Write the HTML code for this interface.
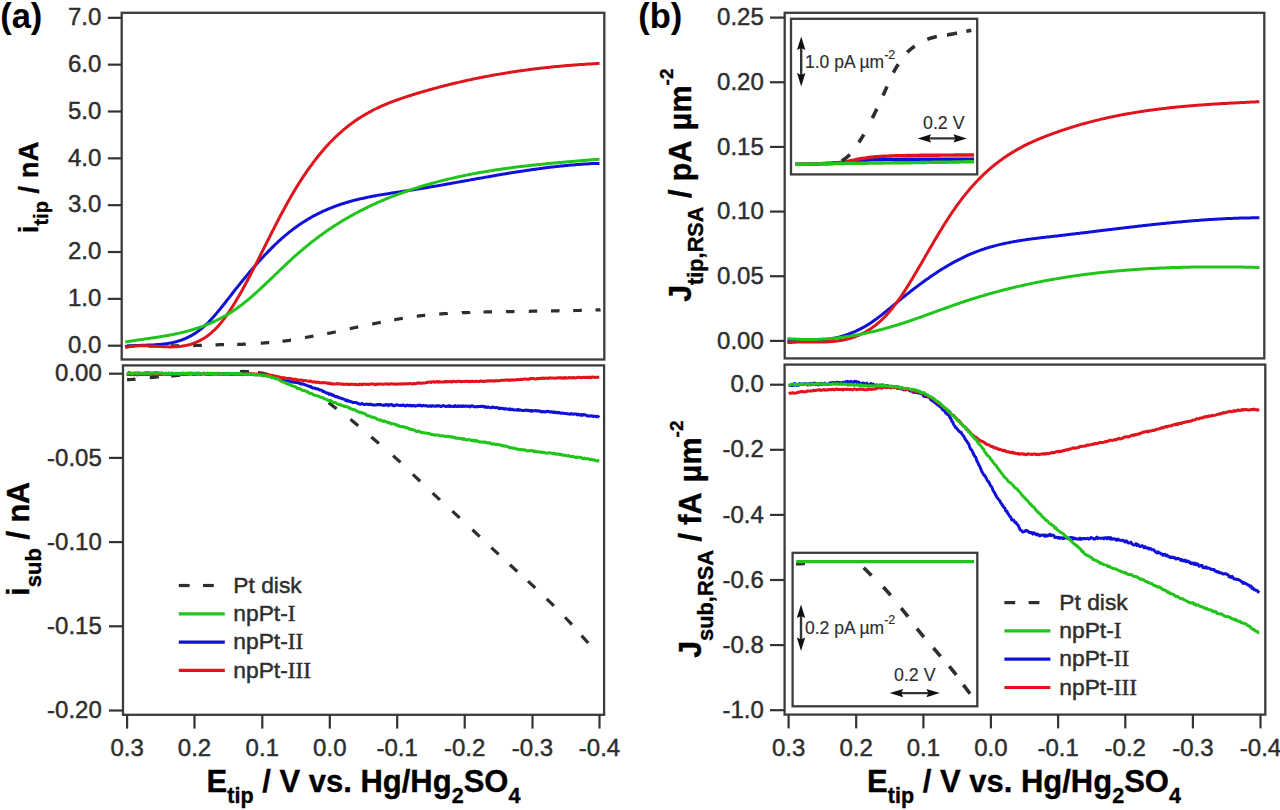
<!DOCTYPE html>
<html><head><meta charset="utf-8"><style>
html,body{margin:0;padding:0;background:#fff;width:1280px;height:810px;overflow:hidden;}
svg{display:block;}
</style></head><body>
<svg width="1280" height="810" viewBox="0 0 1280 810">

<rect width="1280" height="810" fill="#fff"/>
<g>
<rect width="1280" height="810" fill="#fff"/>
<rect x="121.70" y="12.80" width="482.60" height="346.70" fill="none" stroke="#3c3c3c" stroke-width="2.30"/>
<line x1="107.80" y1="345.70" x2="121.70" y2="345.70" stroke="#333" stroke-width="2.20"/>
<text x="101.30" y="353.00" font-family="Liberation Sans, sans-serif" font-size="24.00" font-weight="normal" text-anchor="end" fill="#2e2e2e" stroke="#2e2e2e" stroke-width="0.45">0.0</text>
<line x1="107.80" y1="298.86" x2="121.70" y2="298.86" stroke="#333" stroke-width="2.20"/>
<text x="101.30" y="306.16" font-family="Liberation Sans, sans-serif" font-size="24.00" font-weight="normal" text-anchor="end" fill="#2e2e2e" stroke="#2e2e2e" stroke-width="0.45">1.0</text>
<line x1="107.80" y1="252.02" x2="121.70" y2="252.02" stroke="#333" stroke-width="2.20"/>
<text x="101.30" y="259.32" font-family="Liberation Sans, sans-serif" font-size="24.00" font-weight="normal" text-anchor="end" fill="#2e2e2e" stroke="#2e2e2e" stroke-width="0.45">2.0</text>
<line x1="107.80" y1="205.18" x2="121.70" y2="205.18" stroke="#333" stroke-width="2.20"/>
<text x="101.30" y="212.48" font-family="Liberation Sans, sans-serif" font-size="24.00" font-weight="normal" text-anchor="end" fill="#2e2e2e" stroke="#2e2e2e" stroke-width="0.45">3.0</text>
<line x1="107.80" y1="158.34" x2="121.70" y2="158.34" stroke="#333" stroke-width="2.20"/>
<text x="101.30" y="165.64" font-family="Liberation Sans, sans-serif" font-size="24.00" font-weight="normal" text-anchor="end" fill="#2e2e2e" stroke="#2e2e2e" stroke-width="0.45">4.0</text>
<line x1="107.80" y1="111.50" x2="121.70" y2="111.50" stroke="#333" stroke-width="2.20"/>
<text x="101.30" y="118.80" font-family="Liberation Sans, sans-serif" font-size="24.00" font-weight="normal" text-anchor="end" fill="#2e2e2e" stroke="#2e2e2e" stroke-width="0.45">5.0</text>
<line x1="107.80" y1="64.66" x2="121.70" y2="64.66" stroke="#333" stroke-width="2.20"/>
<text x="101.30" y="71.96" font-family="Liberation Sans, sans-serif" font-size="24.00" font-weight="normal" text-anchor="end" fill="#2e2e2e" stroke="#2e2e2e" stroke-width="0.45">6.0</text>
<line x1="107.80" y1="17.82" x2="121.70" y2="17.82" stroke="#333" stroke-width="2.20"/>
<text x="101.30" y="25.12" font-family="Liberation Sans, sans-serif" font-size="24.00" font-weight="normal" text-anchor="end" fill="#2e2e2e" stroke="#2e2e2e" stroke-width="0.45">7.0</text>
<rect x="123.00" y="365.40" width="481.10" height="349.40" fill="none" stroke="#3c3c3c" stroke-width="2.30"/>
<line x1="109.00" y1="373.70" x2="123.00" y2="373.70" stroke="#333" stroke-width="2.20"/>
<text x="101.80" y="381.30" font-family="Liberation Sans, sans-serif" font-size="24.00" font-weight="normal" text-anchor="end" fill="#2e2e2e" stroke="#2e2e2e" stroke-width="0.45">0.00</text>
<line x1="109.00" y1="457.90" x2="123.00" y2="457.90" stroke="#333" stroke-width="2.20"/>
<text x="101.80" y="465.50" font-family="Liberation Sans, sans-serif" font-size="24.00" font-weight="normal" text-anchor="end" fill="#2e2e2e" stroke="#2e2e2e" stroke-width="0.45">-0.05</text>
<line x1="109.00" y1="542.10" x2="123.00" y2="542.10" stroke="#333" stroke-width="2.20"/>
<text x="101.80" y="549.70" font-family="Liberation Sans, sans-serif" font-size="24.00" font-weight="normal" text-anchor="end" fill="#2e2e2e" stroke="#2e2e2e" stroke-width="0.45">-0.10</text>
<line x1="109.00" y1="626.30" x2="123.00" y2="626.30" stroke="#333" stroke-width="2.20"/>
<text x="101.80" y="633.90" font-family="Liberation Sans, sans-serif" font-size="24.00" font-weight="normal" text-anchor="end" fill="#2e2e2e" stroke="#2e2e2e" stroke-width="0.45">-0.15</text>
<line x1="109.00" y1="710.50" x2="123.00" y2="710.50" stroke="#333" stroke-width="2.20"/>
<text x="101.80" y="718.10" font-family="Liberation Sans, sans-serif" font-size="24.00" font-weight="normal" text-anchor="end" fill="#2e2e2e" stroke="#2e2e2e" stroke-width="0.45">-0.20</text>
<line x1="127.10" y1="714.80" x2="127.10" y2="728.60" stroke="#333" stroke-width="2.20"/>
<text x="127.10" y="756.40" font-family="Liberation Sans, sans-serif" font-size="24.00" font-weight="normal" text-anchor="middle" fill="#2e2e2e" stroke="#2e2e2e" stroke-width="0.45">0.3</text>
<line x1="194.50" y1="714.80" x2="194.50" y2="728.60" stroke="#333" stroke-width="2.20"/>
<text x="194.50" y="756.40" font-family="Liberation Sans, sans-serif" font-size="24.00" font-weight="normal" text-anchor="middle" fill="#2e2e2e" stroke="#2e2e2e" stroke-width="0.45">0.2</text>
<line x1="262.30" y1="714.80" x2="262.30" y2="728.60" stroke="#333" stroke-width="2.20"/>
<text x="262.30" y="756.40" font-family="Liberation Sans, sans-serif" font-size="24.00" font-weight="normal" text-anchor="middle" fill="#2e2e2e" stroke="#2e2e2e" stroke-width="0.45">0.1</text>
<line x1="329.80" y1="714.80" x2="329.80" y2="728.60" stroke="#333" stroke-width="2.20"/>
<text x="329.80" y="756.40" font-family="Liberation Sans, sans-serif" font-size="24.00" font-weight="normal" text-anchor="middle" fill="#2e2e2e" stroke="#2e2e2e" stroke-width="0.45">0.0</text>
<line x1="397.20" y1="714.80" x2="397.20" y2="728.60" stroke="#333" stroke-width="2.20"/>
<text x="397.20" y="756.40" font-family="Liberation Sans, sans-serif" font-size="24.00" font-weight="normal" text-anchor="middle" fill="#2e2e2e" stroke="#2e2e2e" stroke-width="0.45">-0.1</text>
<line x1="464.70" y1="714.80" x2="464.70" y2="728.60" stroke="#333" stroke-width="2.20"/>
<text x="464.70" y="756.40" font-family="Liberation Sans, sans-serif" font-size="24.00" font-weight="normal" text-anchor="middle" fill="#2e2e2e" stroke="#2e2e2e" stroke-width="0.45">-0.2</text>
<line x1="532.50" y1="714.80" x2="532.50" y2="728.60" stroke="#333" stroke-width="2.20"/>
<text x="532.50" y="756.40" font-family="Liberation Sans, sans-serif" font-size="24.00" font-weight="normal" text-anchor="middle" fill="#2e2e2e" stroke="#2e2e2e" stroke-width="0.45">-0.3</text>
<line x1="599.50" y1="714.80" x2="599.50" y2="728.60" stroke="#333" stroke-width="2.20"/>
<text x="599.50" y="756.40" font-family="Liberation Sans, sans-serif" font-size="24.00" font-weight="normal" text-anchor="middle" fill="#2e2e2e" stroke="#2e2e2e" stroke-width="0.45">-0.4</text>
<rect x="784.70" y="12.80" width="479.60" height="345.60" fill="none" stroke="#3c3c3c" stroke-width="2.30"/>
<line x1="770.00" y1="340.90" x2="784.70" y2="340.90" stroke="#333" stroke-width="2.20"/>
<text x="763.80" y="348.50" font-family="Liberation Sans, sans-serif" font-size="24.00" font-weight="normal" text-anchor="end" fill="#2e2e2e" stroke="#2e2e2e" stroke-width="0.45">0.00</text>
<line x1="770.00" y1="276.24" x2="784.70" y2="276.24" stroke="#333" stroke-width="2.20"/>
<text x="763.80" y="283.84" font-family="Liberation Sans, sans-serif" font-size="24.00" font-weight="normal" text-anchor="end" fill="#2e2e2e" stroke="#2e2e2e" stroke-width="0.45">0.05</text>
<line x1="770.00" y1="211.58" x2="784.70" y2="211.58" stroke="#333" stroke-width="2.20"/>
<text x="763.80" y="219.18" font-family="Liberation Sans, sans-serif" font-size="24.00" font-weight="normal" text-anchor="end" fill="#2e2e2e" stroke="#2e2e2e" stroke-width="0.45">0.10</text>
<line x1="770.00" y1="146.92" x2="784.70" y2="146.92" stroke="#333" stroke-width="2.20"/>
<text x="763.80" y="154.52" font-family="Liberation Sans, sans-serif" font-size="24.00" font-weight="normal" text-anchor="end" fill="#2e2e2e" stroke="#2e2e2e" stroke-width="0.45">0.15</text>
<line x1="770.00" y1="82.26" x2="784.70" y2="82.26" stroke="#333" stroke-width="2.20"/>
<text x="763.80" y="89.86" font-family="Liberation Sans, sans-serif" font-size="24.00" font-weight="normal" text-anchor="end" fill="#2e2e2e" stroke="#2e2e2e" stroke-width="0.45">0.20</text>
<line x1="770.00" y1="17.60" x2="784.70" y2="17.60" stroke="#333" stroke-width="2.20"/>
<text x="763.80" y="25.20" font-family="Liberation Sans, sans-serif" font-size="24.00" font-weight="normal" text-anchor="end" fill="#2e2e2e" stroke="#2e2e2e" stroke-width="0.45">0.25</text>
<rect x="784.60" y="364.60" width="480.70" height="350.00" fill="none" stroke="#3c3c3c" stroke-width="2.30"/>
<line x1="770.00" y1="384.70" x2="784.60" y2="384.70" stroke="#333" stroke-width="2.20"/>
<text x="763.80" y="392.30" font-family="Liberation Sans, sans-serif" font-size="24.00" font-weight="normal" text-anchor="end" fill="#2e2e2e" stroke="#2e2e2e" stroke-width="0.45">0.0</text>
<line x1="770.00" y1="449.80" x2="784.60" y2="449.80" stroke="#333" stroke-width="2.20"/>
<text x="763.80" y="457.40" font-family="Liberation Sans, sans-serif" font-size="24.00" font-weight="normal" text-anchor="end" fill="#2e2e2e" stroke="#2e2e2e" stroke-width="0.45">-0.2</text>
<line x1="770.00" y1="514.90" x2="784.60" y2="514.90" stroke="#333" stroke-width="2.20"/>
<text x="763.80" y="522.50" font-family="Liberation Sans, sans-serif" font-size="24.00" font-weight="normal" text-anchor="end" fill="#2e2e2e" stroke="#2e2e2e" stroke-width="0.45">-0.4</text>
<line x1="770.00" y1="580.00" x2="784.60" y2="580.00" stroke="#333" stroke-width="2.20"/>
<text x="763.80" y="587.60" font-family="Liberation Sans, sans-serif" font-size="24.00" font-weight="normal" text-anchor="end" fill="#2e2e2e" stroke="#2e2e2e" stroke-width="0.45">-0.6</text>
<line x1="770.00" y1="645.10" x2="784.60" y2="645.10" stroke="#333" stroke-width="2.20"/>
<text x="763.80" y="652.70" font-family="Liberation Sans, sans-serif" font-size="24.00" font-weight="normal" text-anchor="end" fill="#2e2e2e" stroke="#2e2e2e" stroke-width="0.45">-0.8</text>
<line x1="770.00" y1="710.20" x2="784.60" y2="710.20" stroke="#333" stroke-width="2.20"/>
<text x="763.80" y="717.80" font-family="Liberation Sans, sans-serif" font-size="24.00" font-weight="normal" text-anchor="end" fill="#2e2e2e" stroke="#2e2e2e" stroke-width="0.45">-1.0</text>
<line x1="788.60" y1="714.60" x2="788.60" y2="728.40" stroke="#333" stroke-width="2.20"/>
<text x="788.60" y="756.40" font-family="Liberation Sans, sans-serif" font-size="24.00" font-weight="normal" text-anchor="middle" fill="#2e2e2e" stroke="#2e2e2e" stroke-width="0.45">0.3</text>
<line x1="856.20" y1="714.60" x2="856.20" y2="728.40" stroke="#333" stroke-width="2.20"/>
<text x="856.20" y="756.40" font-family="Liberation Sans, sans-serif" font-size="24.00" font-weight="normal" text-anchor="middle" fill="#2e2e2e" stroke="#2e2e2e" stroke-width="0.45">0.2</text>
<line x1="923.40" y1="714.60" x2="923.40" y2="728.40" stroke="#333" stroke-width="2.20"/>
<text x="923.40" y="756.40" font-family="Liberation Sans, sans-serif" font-size="24.00" font-weight="normal" text-anchor="middle" fill="#2e2e2e" stroke="#2e2e2e" stroke-width="0.45">0.1</text>
<line x1="990.90" y1="714.60" x2="990.90" y2="728.40" stroke="#333" stroke-width="2.20"/>
<text x="990.90" y="756.40" font-family="Liberation Sans, sans-serif" font-size="24.00" font-weight="normal" text-anchor="middle" fill="#2e2e2e" stroke="#2e2e2e" stroke-width="0.45">0.0</text>
<line x1="1058.10" y1="714.60" x2="1058.10" y2="728.40" stroke="#333" stroke-width="2.20"/>
<text x="1058.10" y="756.40" font-family="Liberation Sans, sans-serif" font-size="24.00" font-weight="normal" text-anchor="middle" fill="#2e2e2e" stroke="#2e2e2e" stroke-width="0.45">-0.1</text>
<line x1="1125.30" y1="714.60" x2="1125.30" y2="728.40" stroke="#333" stroke-width="2.20"/>
<text x="1125.30" y="756.40" font-family="Liberation Sans, sans-serif" font-size="24.00" font-weight="normal" text-anchor="middle" fill="#2e2e2e" stroke="#2e2e2e" stroke-width="0.45">-0.2</text>
<line x1="1192.90" y1="714.60" x2="1192.90" y2="728.40" stroke="#333" stroke-width="2.20"/>
<text x="1192.90" y="756.40" font-family="Liberation Sans, sans-serif" font-size="24.00" font-weight="normal" text-anchor="middle" fill="#2e2e2e" stroke="#2e2e2e" stroke-width="0.45">-0.3</text>
<line x1="1260.50" y1="714.60" x2="1260.50" y2="728.40" stroke="#333" stroke-width="2.20"/>
<text x="1260.50" y="756.40" font-family="Liberation Sans, sans-serif" font-size="24.00" font-weight="normal" text-anchor="middle" fill="#2e2e2e" stroke="#2e2e2e" stroke-width="0.45">-0.4</text>
<path d="M127.0 346.0 L127.5 346.0 L128.0 346.0 L128.5 346.0 L129.0 346.0 L129.5 346.0 L130.0 346.0 L130.5 346.0 L131.0 346.0 L131.5 346.0 L132.0 346.0 L132.5 346.0 L133.0 346.0 L133.5 346.0 L134.0 346.0 L134.5 346.0" fill="none" stroke="#2e2e2e" stroke-width="3.20"/>
<path d="M148.5 346.0 L149.0 346.0 L149.5 346.0 L150.0 346.0 L150.5 346.0 L151.0 346.0 L151.5 346.0 L152.0 346.0 L152.5 346.0 L153.0 346.0 L153.5 346.0 L154.0 346.0 L154.5 346.0 L155.0 346.0 L155.5 346.0 L156.0 346.0 L156.5 346.0 L157.0 346.0" fill="none" stroke="#2e2e2e" stroke-width="3.20"/>
<path d="M170.8 345.8 L171.2 345.8 L171.8 345.8 L172.2 345.8 L172.8 345.8 L173.2 345.8 L173.8 345.8 L174.2 345.8 L174.8 345.8 L175.2 345.8 L175.8 345.8 L176.2 345.8 L176.8 345.8 L177.2 345.8 L177.8 345.8 L178.2 345.8 L178.8 345.8 L179.2 345.8" fill="none" stroke="#2e2e2e" stroke-width="3.20"/>
<path d="M193.2 345.6 L193.8 345.6 L194.2 345.6 L194.8 345.5 L195.2 345.5 L195.8 345.5 L196.2 345.5 L196.8 345.5 L197.2 345.5 L197.8 345.5 L198.2 345.5 L198.8 345.5 L199.2 345.4 L199.8 345.4 L200.2 345.4 L200.8 345.4 L201.2 345.4 L201.8 345.4" fill="none" stroke="#2e2e2e" stroke-width="3.20"/>
<path d="M215.5 344.8 L216.0 344.8 L216.5 344.8 L217.0 344.8 L217.5 344.8 L218.0 344.8 L218.5 344.7 L219.0 344.7 L219.5 344.7 L220.0 344.7 L220.5 344.7 L221.0 344.7 L221.5 344.7 L222.0 344.7 L222.5 344.6 L223.0 344.6 L223.5 344.6 L224.0 344.6" fill="none" stroke="#2e2e2e" stroke-width="3.20"/>
<path d="M237.2 344.4 L237.8 344.4 L238.2 344.4 L238.8 344.4 L239.2 344.3 L239.8 344.3 L240.2 344.3 L240.8 344.3 L241.2 344.3 L241.8 344.3 L242.2 344.3 L242.8 344.2 L243.2 344.2 L243.8 344.2 L244.2 344.2 L244.8 344.2 L245.2 344.2 L245.8 344.1" fill="none" stroke="#2e2e2e" stroke-width="3.20"/>
<path d="M260.8 343.2 L261.2 343.2 L261.8 343.1 L262.2 343.1 L262.8 343.1 L263.2 343.0 L263.8 343.0 L264.2 342.9 L264.8 342.9 L265.2 342.9 L265.8 342.8 L266.2 342.8 L266.8 342.8 L267.2 342.7 L267.8 342.7 L268.2 342.6 L268.8 342.6 L269.2 342.6" fill="none" stroke="#2e2e2e" stroke-width="3.20"/>
<path d="M282.5 341.3 L283.0 341.2 L283.5 341.2 L284.0 341.1 L284.5 341.1 L285.0 341.0 L285.5 340.9 L286.0 340.9 L286.5 340.8 L287.0 340.7 L287.5 340.7 L288.0 340.6 L288.5 340.5 L289.0 340.5 L289.5 340.4 L290.0 340.3 L290.5 340.2 L291.0 340.2" fill="none" stroke="#2e2e2e" stroke-width="3.20"/>
<path d="M305.0 337.6 L305.5 337.5 L306.0 337.4 L306.5 337.3 L307.0 337.2 L307.5 337.1 L308.0 337.0 L308.5 336.9 L309.0 336.8 L309.5 336.8 L310.0 336.7 L310.5 336.6 L311.0 336.5 L311.5 336.4 L312.0 336.3 L312.5 336.2 L313.0 336.1 L313.5 336.0" fill="none" stroke="#2e2e2e" stroke-width="3.20"/>
<path d="M327.2 333.6 L327.8 333.5 L328.2 333.4 L328.8 333.3 L329.2 333.2 L329.8 333.1 L330.2 333.0 L330.8 332.9 L331.2 332.8 L331.8 332.7 L332.2 332.6 L332.8 332.5 L333.2 332.4 L333.8 332.3 L334.2 332.2 L334.8 332.1 L335.2 332.0 L335.8 331.9" fill="none" stroke="#2e2e2e" stroke-width="3.20"/>
<path d="M349.8 328.7 L350.2 328.6 L350.8 328.5 L351.2 328.4 L351.8 328.3 L352.2 328.2 L352.8 328.1 L353.2 327.9 L353.8 327.8 L354.2 327.7 L354.8 327.6 L355.2 327.5 L355.8 327.4 L356.2 327.3 L356.8 327.2 L357.2 327.1 L357.8 327.0 L358.2 326.9" fill="none" stroke="#2e2e2e" stroke-width="3.20"/>
<path d="M372.2 324.0 L372.8 323.9 L373.2 323.8 L373.8 323.7 L374.2 323.6 L374.8 323.5 L375.2 323.4 L375.8 323.3 L376.2 323.2 L376.8 323.1 L377.2 323.0 L377.8 322.9 L378.2 322.8 L378.8 322.7 L379.2 322.6 L379.8 322.5 L380.2 322.4 L380.8 322.3" fill="none" stroke="#2e2e2e" stroke-width="3.20"/>
<path d="M394.2 319.7 L394.8 319.7 L395.2 319.6 L395.8 319.5 L396.2 319.4 L396.8 319.3 L397.2 319.2 L397.8 319.1 L398.2 319.1 L398.8 319.0 L399.2 318.9 L399.8 318.8 L400.2 318.7 L400.8 318.6 L401.2 318.6 L401.8 318.5 L402.2 318.4 L402.8 318.3" fill="none" stroke="#2e2e2e" stroke-width="3.20"/>
<path d="M416.8 316.2 L417.2 316.2 L417.8 316.1 L418.2 316.0 L418.8 316.0 L419.2 315.9 L419.8 315.9 L420.2 315.8 L420.8 315.7 L421.2 315.7 L421.8 315.6 L422.2 315.6 L422.8 315.5 L423.2 315.5 L423.8 315.4 L424.2 315.4 L424.8 315.3 L425.2 315.3" fill="none" stroke="#2e2e2e" stroke-width="3.20"/>
<path d="M439.2 314.0 L439.8 314.0 L440.2 313.9 L440.8 313.9 L441.2 313.9 L441.8 313.8 L442.2 313.8 L442.8 313.8 L443.2 313.7 L443.8 313.7 L444.2 313.7 L444.8 313.6 L445.2 313.6 L445.8 313.6 L446.2 313.5 L446.8 313.5 L447.2 313.5 L447.8 313.4" fill="none" stroke="#2e2e2e" stroke-width="3.20"/>
<path d="M461.8 312.8 L462.2 312.7 L462.8 312.7 L463.2 312.7 L463.8 312.7 L464.2 312.7 L464.8 312.6 L465.2 312.6 L465.8 312.6 L466.2 312.6 L466.8 312.6 L467.2 312.5 L467.8 312.5 L468.2 312.5 L468.8 312.5 L469.2 312.5 L469.8 312.5 L470.2 312.4" fill="none" stroke="#2e2e2e" stroke-width="3.20"/>
<path d="M483.5 312.0 L484.0 312.0 L484.5 312.0 L485.0 312.0 L485.5 312.0 L486.0 311.9 L486.5 311.9 L487.0 311.9 L487.5 311.9 L488.0 311.9 L488.5 311.9 L489.0 311.9 L489.5 311.9 L490.0 311.9 L490.5 311.9 L491.0 311.8 L491.5 311.8 L492.0 311.8" fill="none" stroke="#2e2e2e" stroke-width="3.20"/>
<path d="M506.0 311.7 L506.5 311.6 L507.0 311.6 L507.5 311.6 L508.0 311.6 L508.5 311.6 L509.0 311.6 L509.5 311.6 L510.0 311.6 L510.5 311.6 L511.0 311.6 L511.5 311.6 L512.0 311.6 L512.5 311.6 L513.0 311.6 L513.5 311.5 L514.0 311.5 L514.5 311.5" fill="none" stroke="#2e2e2e" stroke-width="3.20"/>
<path d="M528.8 311.3 L529.2 311.3 L529.8 311.3 L530.2 311.3 L530.8 311.2 L531.2 311.2 L531.8 311.2 L532.2 311.2 L532.8 311.2 L533.2 311.2 L533.8 311.2 L534.2 311.2 L534.8 311.2 L535.2 311.2 L535.8 311.2 L536.2 311.1 L536.8 311.1 L537.2 311.1" fill="none" stroke="#2e2e2e" stroke-width="3.20"/>
<path d="M551.0 310.9 L551.5 310.9 L552.0 310.9 L552.5 310.8 L553.0 310.8 L553.5 310.8 L554.0 310.8 L554.5 310.8 L555.0 310.8 L555.5 310.8 L556.0 310.8 L556.5 310.8 L557.0 310.8 L557.5 310.8 L558.0 310.8 L558.5 310.8 L559.0 310.7 L559.5 310.7" fill="none" stroke="#2e2e2e" stroke-width="3.20"/>
<path d="M573.2 310.6 L573.8 310.6 L574.2 310.5 L574.8 310.5 L575.2 310.5 L575.8 310.5 L576.2 310.5 L576.8 310.5 L577.2 310.5 L577.8 310.5 L578.2 310.5 L578.8 310.5 L579.2 310.5 L579.8 310.4 L580.2 310.4 L580.8 310.4 L581.2 310.4 L581.8 310.4" fill="none" stroke="#2e2e2e" stroke-width="3.20"/>
<path d="M595.5 310.0 L596.0 310.0 L596.5 310.0 L597.0 309.9 L597.5 309.9 L598.0 309.9 L598.5 309.9 L599.0 309.9 L599.5 309.9 L600.0 309.9 L600.5 309.8" fill="none" stroke="#2e2e2e" stroke-width="3.20"/>
<path d="M125.2 346.5 L126.2 346.4 L127.2 346.3 L128.2 346.2 L129.2 346.1 L130.2 346.0 L131.2 345.9 L132.2 345.9 L133.2 345.8 L134.2 345.7 L135.2 345.6 L136.2 345.6 L137.2 345.5 L138.2 345.5 L139.2 345.4 L140.2 345.4 L141.2 345.3 L142.2 345.3 L143.2 345.3 L144.2 345.2 L145.2 345.2 L146.2 345.2 L147.2 345.1 L148.2 345.1 L149.2 345.0 L150.2 345.0 L151.2 345.0 L152.2 344.9 L153.2 344.9 L154.2 344.8 L155.2 344.8 L156.2 344.7 L157.2 344.6 L158.2 344.6 L159.2 344.5 L160.2 344.4 L161.2 344.3 L162.2 344.2 L163.2 344.1 L164.2 344.0 L165.2 343.9 L166.2 343.7 L167.2 343.6 L168.2 343.4 L169.2 343.2 L170.2 343.1 L171.2 342.9 L172.2 342.7 L173.2 342.4 L174.2 342.2 L175.2 342.0 L176.2 341.7 L177.2 341.4 L178.2 341.1 L179.2 340.8 L180.2 340.5 L181.2 340.1 L182.2 339.8 L183.2 339.4 L184.2 339.0 L185.2 338.6 L186.2 338.1 L187.2 337.7 L188.2 337.2 L189.2 336.7 L190.2 336.2 L191.2 335.6 L192.2 335.1 L193.2 334.5 L194.2 333.9 L195.2 333.2 L196.2 332.6 L197.2 331.9 L198.2 331.1 L199.2 330.4 L200.2 329.6 L201.2 328.8 L202.2 328.0 L203.2 327.2 L204.2 326.3 L205.3 325.4 L206.3 324.4 L207.3 323.5 L208.3 322.5 L209.3 321.4 L210.3 320.4 L211.3 319.3 L212.3 318.2 L213.3 317.1 L214.3 316.0 L215.3 314.8 L216.3 313.6 L217.3 312.4 L218.3 311.2 L219.3 310.0 L220.3 308.8 L221.3 307.5 L222.3 306.3 L223.3 305.0 L224.3 303.8 L225.3 302.5 L226.3 301.2 L227.3 299.9 L228.3 298.6 L229.3 297.4 L230.3 296.1 L231.3 294.8 L232.3 293.5 L233.3 292.2 L234.3 291.0 L235.3 289.7 L236.3 288.4 L237.3 287.2 L238.3 285.9 L239.3 284.7 L240.3 283.4 L241.3 282.2 L242.3 281.0 L243.3 279.7 L244.3 278.5 L245.3 277.3 L246.3 276.1 L247.3 274.9 L248.3 273.7 L249.3 272.5 L250.3 271.3 L251.3 270.2 L252.3 269.0 L253.3 267.8 L254.3 266.7 L255.3 265.5 L256.3 264.4 L257.3 263.3 L258.3 262.1 L259.3 261.0 L260.3 259.9 L261.3 258.8 L262.3 257.7 L263.3 256.7 L264.3 255.6 L265.3 254.5 L266.3 253.5 L267.3 252.4 L268.3 251.4 L269.3 250.4 L270.3 249.4 L271.3 248.4 L272.3 247.4 L273.3 246.4 L274.3 245.4 L275.3 244.4 L276.3 243.5 L277.3 242.6 L278.3 241.6 L279.3 240.7 L280.3 239.8 L281.3 238.9 L282.3 238.0 L283.3 237.1 L284.3 236.3 L285.3 235.4 L286.3 234.6 L287.3 233.8 L288.3 233.0 L289.3 232.2 L290.3 231.4 L291.3 230.6 L292.3 229.8 L293.3 229.1 L294.3 228.3 L295.3 227.6 L296.3 226.9 L297.3 226.2 L298.3 225.5 L299.3 224.8 L300.3 224.1 L301.3 223.4 L302.3 222.8 L303.3 222.1 L304.3 221.5 L305.3 220.9 L306.3 220.2 L307.3 219.6 L308.3 219.0 L309.3 218.4 L310.3 217.9 L311.3 217.3 L312.3 216.7 L313.3 216.2 L314.3 215.7 L315.3 215.1 L316.3 214.6 L317.3 214.1 L318.3 213.6 L319.3 213.1 L320.3 212.6 L321.3 212.1 L322.3 211.6 L323.3 211.2 L324.3 210.7 L325.3 210.3 L326.3 209.8 L327.3 209.4 L328.3 209.0 L329.3 208.6 L330.3 208.2 L331.3 207.8 L332.3 207.4 L333.3 207.0 L334.3 206.6 L335.3 206.2 L336.3 205.9 L337.3 205.5 L338.3 205.1 L339.3 204.8 L340.3 204.5 L341.3 204.1 L342.3 203.8 L343.3 203.5 L344.3 203.2 L345.3 202.9 L346.3 202.6 L347.3 202.3 L348.3 202.0 L349.3 201.7 L350.3 201.4 L351.3 201.1 L352.3 200.8 L353.3 200.6 L354.3 200.3 L355.3 200.1 L356.3 199.8 L357.3 199.6 L358.3 199.3 L359.3 199.1 L360.3 198.8 L361.3 198.6 L362.4 198.4 L363.4 198.2 L364.4 198.0 L365.4 197.7 L366.4 197.5 L367.4 197.3 L368.4 197.1 L369.4 196.9 L370.4 196.7 L371.4 196.5 L372.4 196.3 L373.4 196.1 L374.4 196.0 L375.4 195.8 L376.4 195.6 L377.4 195.4 L378.4 195.2 L379.4 195.1 L380.4 194.9 L381.4 194.7 L382.4 194.6 L383.4 194.4 L384.4 194.2 L385.4 194.1 L386.4 193.9 L387.4 193.8 L388.4 193.6 L389.4 193.4 L390.4 193.3 L391.4 193.1 L392.4 193.0 L393.4 192.8 L394.4 192.7 L395.4 192.5 L396.4 192.4 L397.4 192.2 L398.4 192.1 L399.4 191.9 L400.4 191.8 L401.4 191.6 L402.4 191.5 L403.4 191.3 L404.4 191.2 L405.4 191.0 L406.4 190.9 L407.4 190.7 L408.4 190.6 L409.4 190.4 L410.4 190.2 L411.4 190.1 L412.4 189.9 L413.4 189.8 L414.4 189.6 L415.4 189.5 L416.4 189.3 L417.4 189.1 L418.4 189.0 L419.4 188.8 L420.4 188.6 L421.4 188.5 L422.4 188.3 L423.4 188.2 L424.4 188.0 L425.4 187.8 L426.4 187.7 L427.4 187.5 L428.4 187.3 L429.4 187.1 L430.4 187.0 L431.4 186.8 L432.4 186.6 L433.4 186.5 L434.4 186.3 L435.4 186.1 L436.4 185.9 L437.4 185.8 L438.4 185.6 L439.4 185.4 L440.4 185.3 L441.4 185.1 L442.4 184.9 L443.4 184.7 L444.4 184.5 L445.4 184.4 L446.4 184.2 L447.4 184.0 L448.4 183.8 L449.4 183.7 L450.4 183.5 L451.4 183.3 L452.4 183.1 L453.4 183.0 L454.4 182.8 L455.4 182.6 L456.4 182.4 L457.4 182.2 L458.4 182.1 L459.4 181.9 L460.4 181.7 L461.4 181.5 L462.4 181.3 L463.4 181.2 L464.4 181.0 L465.4 180.8 L466.4 180.6 L467.4 180.4 L468.4 180.3 L469.4 180.1 L470.4 179.9 L471.4 179.7 L472.4 179.5 L473.4 179.4 L474.4 179.2 L475.4 179.0 L476.4 178.8 L477.4 178.6 L478.4 178.5 L479.4 178.3 L480.4 178.1 L481.4 177.9 L482.4 177.8 L483.4 177.6 L484.4 177.4 L485.4 177.2 L486.4 177.1 L487.4 176.9 L488.4 176.7 L489.4 176.5 L490.4 176.4 L491.4 176.2 L492.4 176.0 L493.4 175.8 L494.4 175.7 L495.4 175.5 L496.4 175.3 L497.4 175.1 L498.4 175.0 L499.4 174.8 L500.4 174.6 L501.4 174.5 L502.4 174.3 L503.4 174.1 L504.4 174.0 L505.4 173.8 L506.4 173.6 L507.4 173.5 L508.4 173.3 L509.4 173.1 L510.4 173.0 L511.4 172.8 L512.4 172.6 L513.4 172.5 L514.4 172.3 L515.4 172.2 L516.4 172.0 L517.4 171.8 L518.4 171.7 L519.4 171.5 L520.5 171.4 L521.5 171.2 L522.5 171.1 L523.5 170.9 L524.5 170.8 L525.5 170.6 L526.5 170.5 L527.5 170.3 L528.5 170.2 L529.5 170.0 L530.5 169.9 L531.5 169.7 L532.5 169.6 L533.5 169.5 L534.5 169.3 L535.5 169.2 L536.5 169.0 L537.5 168.9 L538.5 168.8 L539.5 168.6 L540.5 168.5 L541.5 168.4 L542.5 168.2 L543.5 168.1 L544.5 168.0 L545.5 167.8 L546.5 167.7 L547.5 167.6 L548.5 167.5 L549.5 167.3 L550.5 167.2 L551.5 167.1 L552.5 167.0 L553.5 166.9 L554.5 166.8 L555.5 166.6 L556.5 166.5 L557.5 166.4 L558.5 166.3 L559.5 166.2 L560.5 166.1 L561.5 166.0 L562.5 165.9 L563.5 165.8 L564.5 165.7 L565.5 165.6 L566.5 165.5 L567.5 165.4 L568.5 165.3 L569.5 165.2 L570.5 165.1 L571.5 165.0 L572.5 164.9 L573.5 164.9 L574.5 164.8 L575.5 164.7 L576.5 164.6 L577.5 164.5 L578.5 164.5 L579.5 164.4 L580.5 164.3 L581.5 164.2 L582.5 164.2 L583.5 164.1 L584.5 164.0 L585.5 164.0 L586.5 163.9 L587.5 163.9 L588.5 163.8 L589.5 163.7 L590.5 163.7 L591.5 163.6 L592.5 163.6 L593.5 163.6 L594.5 163.5 L595.5 163.5 L596.5 163.4 L597.5 163.4 L598.5 163.4 L599.5 163.3" fill="none" stroke="#1010d8" stroke-width="3.00" stroke-linejoin="round"/>
<path d="M125.2 347.5 L126.2 347.3 L127.2 347.2 L128.2 347.0 L129.2 346.8 L130.2 346.6 L131.2 346.5 L132.2 346.4 L133.2 346.2 L134.2 346.1 L135.2 346.0 L136.2 346.0 L137.2 345.9 L138.2 345.8 L139.2 345.8 L140.2 345.8 L141.2 345.8 L142.2 345.7 L143.2 345.7 L144.2 345.7 L145.2 345.8 L146.2 345.8 L147.2 345.8 L148.2 345.8 L149.2 345.9 L150.2 345.9 L151.2 346.0 L152.2 346.0 L153.2 346.1 L154.2 346.1 L155.2 346.2 L156.2 346.3 L157.2 346.3 L158.2 346.4 L159.2 346.4 L160.2 346.5 L161.2 346.6 L162.2 346.6 L163.2 346.7 L164.2 346.7 L165.2 346.8 L166.2 346.8 L167.2 346.8 L168.2 346.8 L169.2 346.9 L170.2 346.9 L171.2 346.9 L172.2 346.9 L173.2 346.8 L174.2 346.8 L175.2 346.8 L176.2 346.7 L177.2 346.7 L178.2 346.6 L179.2 346.5 L180.2 346.4 L181.2 346.3 L182.2 346.1 L183.2 346.0 L184.2 345.8 L185.2 345.6 L186.2 345.4 L187.2 345.2 L188.2 345.0 L189.2 344.7 L190.2 344.5 L191.2 344.2 L192.2 343.8 L193.2 343.5 L194.2 343.1 L195.2 342.7 L196.2 342.3 L197.2 341.9 L198.2 341.4 L199.2 340.9 L200.2 340.4 L201.2 339.9 L202.2 339.3 L203.2 338.7 L204.2 338.1 L205.3 337.4 L206.3 336.7 L207.3 336.0 L208.3 335.3 L209.3 334.5 L210.3 333.7 L211.3 332.8 L212.3 331.9 L213.3 331.0 L214.3 330.1 L215.3 329.1 L216.3 328.1 L217.3 327.0 L218.3 325.9 L219.3 324.8 L220.3 323.6 L221.3 322.4 L222.3 321.1 L223.3 319.9 L224.3 318.5 L225.3 317.2 L226.3 315.8 L227.3 314.4 L228.3 312.9 L229.3 311.5 L230.3 309.9 L231.3 308.4 L232.3 306.8 L233.3 305.3 L234.3 303.6 L235.3 302.0 L236.3 300.3 L237.3 298.6 L238.3 296.9 L239.3 295.2 L240.3 293.4 L241.3 291.7 L242.3 289.9 L243.3 288.1 L244.3 286.2 L245.3 284.4 L246.3 282.5 L247.3 280.7 L248.3 278.8 L249.3 276.9 L250.3 275.0 L251.3 273.1 L252.3 271.1 L253.3 269.2 L254.3 267.2 L255.3 265.3 L256.3 263.3 L257.3 261.3 L258.3 259.4 L259.3 257.4 L260.3 255.4 L261.3 253.4 L262.3 251.4 L263.3 249.4 L264.3 247.4 L265.3 245.4 L266.3 243.4 L267.3 241.4 L268.3 239.5 L269.3 237.5 L270.3 235.5 L271.3 233.5 L272.3 231.5 L273.3 229.6 L274.3 227.6 L275.3 225.6 L276.3 223.7 L277.3 221.8 L278.3 219.8 L279.3 217.9 L280.3 216.0 L281.3 214.1 L282.3 212.2 L283.3 210.4 L284.3 208.5 L285.3 206.7 L286.3 204.9 L287.3 203.1 L288.3 201.3 L289.3 199.5 L290.3 197.8 L291.3 196.0 L292.3 194.3 L293.3 192.6 L294.3 190.9 L295.3 189.3 L296.3 187.6 L297.3 186.0 L298.3 184.4 L299.3 182.8 L300.3 181.2 L301.3 179.7 L302.3 178.1 L303.3 176.6 L304.3 175.1 L305.3 173.7 L306.3 172.2 L307.3 170.7 L308.3 169.3 L309.3 167.9 L310.3 166.5 L311.3 165.1 L312.3 163.8 L313.3 162.4 L314.3 161.1 L315.3 159.8 L316.3 158.5 L317.3 157.3 L318.3 156.0 L319.3 154.8 L320.3 153.5 L321.3 152.3 L322.3 151.2 L323.3 150.0 L324.3 148.8 L325.3 147.7 L326.3 146.6 L327.3 145.5 L328.3 144.4 L329.3 143.3 L330.3 142.3 L331.3 141.3 L332.3 140.2 L333.3 139.2 L334.3 138.2 L335.3 137.3 L336.3 136.3 L337.3 135.4 L338.3 134.4 L339.3 133.5 L340.3 132.6 L341.3 131.8 L342.3 130.9 L343.3 130.0 L344.3 129.2 L345.3 128.4 L346.3 127.5 L347.3 126.7 L348.3 126.0 L349.3 125.2 L350.3 124.4 L351.3 123.7 L352.3 122.9 L353.3 122.2 L354.3 121.5 L355.3 120.8 L356.3 120.1 L357.3 119.4 L358.3 118.8 L359.3 118.1 L360.3 117.5 L361.3 116.8 L362.4 116.2 L363.4 115.6 L364.4 115.0 L365.4 114.4 L366.4 113.8 L367.4 113.3 L368.4 112.7 L369.4 112.1 L370.4 111.6 L371.4 111.1 L372.4 110.5 L373.4 110.0 L374.4 109.5 L375.4 109.0 L376.4 108.5 L377.4 108.0 L378.4 107.6 L379.4 107.1 L380.4 106.6 L381.4 106.2 L382.4 105.7 L383.4 105.3 L384.4 104.9 L385.4 104.5 L386.4 104.0 L387.4 103.6 L388.4 103.2 L389.4 102.8 L390.4 102.4 L391.4 102.0 L392.4 101.6 L393.4 101.3 L394.4 100.9 L395.4 100.5 L396.4 100.2 L397.4 99.8 L398.4 99.5 L399.4 99.1 L400.4 98.8 L401.4 98.4 L402.4 98.1 L403.4 97.7 L404.4 97.4 L405.4 97.1 L406.4 96.7 L407.4 96.4 L408.4 96.1 L409.4 95.8 L410.4 95.5 L411.4 95.2 L412.4 94.8 L413.4 94.5 L414.4 94.2 L415.4 93.9 L416.4 93.6 L417.4 93.3 L418.4 93.0 L419.4 92.7 L420.4 92.4 L421.4 92.1 L422.4 91.8 L423.4 91.5 L424.4 91.2 L425.4 90.9 L426.4 90.7 L427.4 90.4 L428.4 90.1 L429.4 89.8 L430.4 89.5 L431.4 89.2 L432.4 89.0 L433.4 88.7 L434.4 88.4 L435.4 88.2 L436.4 87.9 L437.4 87.6 L438.4 87.3 L439.4 87.1 L440.4 86.8 L441.4 86.6 L442.4 86.3 L443.4 86.0 L444.4 85.8 L445.4 85.5 L446.4 85.3 L447.4 85.0 L448.4 84.8 L449.4 84.5 L450.4 84.3 L451.4 84.0 L452.4 83.8 L453.4 83.5 L454.4 83.3 L455.4 83.1 L456.4 82.8 L457.4 82.6 L458.4 82.4 L459.4 82.1 L460.4 81.9 L461.4 81.7 L462.4 81.4 L463.4 81.2 L464.4 81.0 L465.4 80.8 L466.4 80.5 L467.4 80.3 L468.4 80.1 L469.4 79.9 L470.4 79.7 L471.4 79.5 L472.4 79.2 L473.4 79.0 L474.4 78.8 L475.4 78.6 L476.4 78.4 L477.4 78.2 L478.4 78.0 L479.4 77.8 L480.4 77.6 L481.4 77.4 L482.4 77.2 L483.4 77.0 L484.4 76.8 L485.4 76.6 L486.4 76.4 L487.4 76.3 L488.4 76.1 L489.4 75.9 L490.4 75.7 L491.4 75.5 L492.4 75.3 L493.4 75.1 L494.4 75.0 L495.4 74.8 L496.4 74.6 L497.4 74.4 L498.4 74.3 L499.4 74.1 L500.4 73.9 L501.4 73.8 L502.4 73.6 L503.4 73.4 L504.4 73.3 L505.4 73.1 L506.4 72.9 L507.4 72.8 L508.4 72.6 L509.4 72.5 L510.4 72.3 L511.4 72.1 L512.4 72.0 L513.4 71.8 L514.4 71.7 L515.4 71.5 L516.4 71.4 L517.4 71.2 L518.4 71.1 L519.4 71.0 L520.5 70.8 L521.5 70.7 L522.5 70.5 L523.5 70.4 L524.5 70.3 L525.5 70.1 L526.5 70.0 L527.5 69.9 L528.5 69.7 L529.5 69.6 L530.5 69.5 L531.5 69.3 L532.5 69.2 L533.5 69.1 L534.5 69.0 L535.5 68.8 L536.5 68.7 L537.5 68.6 L538.5 68.5 L539.5 68.4 L540.5 68.2 L541.5 68.1 L542.5 68.0 L543.5 67.9 L544.5 67.8 L545.5 67.7 L546.5 67.6 L547.5 67.5 L548.5 67.4 L549.5 67.3 L550.5 67.1 L551.5 67.0 L552.5 66.9 L553.5 66.8 L554.5 66.7 L555.5 66.6 L556.5 66.6 L557.5 66.5 L558.5 66.4 L559.5 66.3 L560.5 66.2 L561.5 66.1 L562.5 66.0 L563.5 65.9 L564.5 65.8 L565.5 65.7 L566.5 65.6 L567.5 65.6 L568.5 65.5 L569.5 65.4 L570.5 65.3 L571.5 65.2 L572.5 65.2 L573.5 65.1 L574.5 65.0 L575.5 64.9 L576.5 64.9 L577.5 64.8 L578.5 64.7 L579.5 64.6 L580.5 64.6 L581.5 64.5 L582.5 64.4 L583.5 64.4 L584.5 64.3 L585.5 64.3 L586.5 64.2 L587.5 64.1 L588.5 64.1 L589.5 64.0 L590.5 63.9 L591.5 63.9 L592.5 63.8 L593.5 63.8 L594.5 63.7 L595.5 63.7 L596.5 63.6 L597.5 63.6 L598.5 63.5 L599.5 63.5" fill="none" stroke="#e0141c" stroke-width="3.00" stroke-linejoin="round"/>
<path d="M125.2 341.9 L126.2 341.8 L127.2 341.7 L128.2 341.5 L129.2 341.4 L130.2 341.2 L131.2 341.0 L132.2 340.9 L133.2 340.7 L134.2 340.6 L135.2 340.4 L136.2 340.3 L137.2 340.1 L138.2 340.0 L139.2 339.9 L140.2 339.7 L141.2 339.6 L142.2 339.4 L143.2 339.3 L144.2 339.1 L145.2 339.0 L146.2 338.8 L147.2 338.7 L148.2 338.5 L149.2 338.4 L150.2 338.3 L151.2 338.1 L152.2 338.0 L153.2 337.8 L154.2 337.7 L155.2 337.5 L156.2 337.4 L157.2 337.2 L158.2 337.0 L159.2 336.9 L160.2 336.7 L161.2 336.6 L162.2 336.4 L163.2 336.2 L164.2 336.1 L165.2 335.9 L166.2 335.7 L167.2 335.5 L168.2 335.4 L169.2 335.2 L170.2 335.0 L171.2 334.8 L172.2 334.6 L173.2 334.4 L174.2 334.2 L175.2 334.0 L176.2 333.8 L177.2 333.6 L178.2 333.4 L179.2 333.1 L180.2 332.9 L181.2 332.7 L182.2 332.4 L183.2 332.2 L184.2 331.9 L185.2 331.7 L186.2 331.4 L187.2 331.2 L188.2 330.9 L189.2 330.6 L190.2 330.3 L191.2 330.1 L192.2 329.8 L193.2 329.5 L194.2 329.2 L195.2 328.8 L196.2 328.5 L197.2 328.2 L198.2 327.9 L199.2 327.5 L200.2 327.2 L201.2 326.8 L202.2 326.5 L203.2 326.1 L204.2 325.7 L205.3 325.3 L206.3 324.9 L207.3 324.5 L208.3 324.1 L209.3 323.7 L210.3 323.3 L211.3 322.8 L212.3 322.4 L213.3 321.9 L214.3 321.5 L215.3 321.0 L216.3 320.5 L217.3 320.0 L218.3 319.5 L219.3 319.0 L220.3 318.5 L221.3 318.0 L222.3 317.4 L223.3 316.9 L224.3 316.3 L225.3 315.8 L226.3 315.2 L227.3 314.6 L228.3 314.0 L229.3 313.4 L230.3 312.7 L231.3 312.1 L232.3 311.4 L233.3 310.8 L234.3 310.1 L235.3 309.4 L236.3 308.7 L237.3 308.0 L238.3 307.3 L239.3 306.6 L240.3 305.8 L241.3 305.1 L242.3 304.3 L243.3 303.5 L244.3 302.7 L245.3 301.9 L246.3 301.1 L247.3 300.3 L248.3 299.5 L249.3 298.6 L250.3 297.8 L251.3 296.9 L252.3 296.1 L253.3 295.2 L254.3 294.3 L255.3 293.4 L256.3 292.5 L257.3 291.6 L258.3 290.7 L259.3 289.8 L260.3 288.9 L261.3 287.9 L262.3 287.0 L263.3 286.1 L264.3 285.1 L265.3 284.2 L266.3 283.2 L267.3 282.3 L268.3 281.3 L269.3 280.4 L270.3 279.4 L271.3 278.5 L272.3 277.5 L273.3 276.5 L274.3 275.6 L275.3 274.6 L276.3 273.7 L277.3 272.7 L278.3 271.7 L279.3 270.8 L280.3 269.8 L281.3 268.9 L282.3 267.9 L283.3 267.0 L284.3 266.0 L285.3 265.1 L286.3 264.1 L287.3 263.2 L288.3 262.2 L289.3 261.3 L290.3 260.4 L291.3 259.5 L292.3 258.5 L293.3 257.6 L294.3 256.7 L295.3 255.8 L296.3 255.0 L297.3 254.1 L298.3 253.2 L299.3 252.3 L300.3 251.5 L301.3 250.6 L302.3 249.8 L303.3 248.9 L304.3 248.1 L305.3 247.3 L306.3 246.4 L307.3 245.6 L308.3 244.8 L309.3 244.0 L310.3 243.2 L311.3 242.4 L312.3 241.6 L313.3 240.9 L314.3 240.1 L315.3 239.3 L316.3 238.6 L317.3 237.8 L318.3 237.1 L319.3 236.3 L320.3 235.6 L321.3 234.9 L322.3 234.2 L323.3 233.4 L324.3 232.7 L325.3 232.0 L326.3 231.3 L327.3 230.6 L328.3 229.9 L329.3 229.3 L330.3 228.6 L331.3 227.9 L332.3 227.3 L333.3 226.6 L334.3 226.0 L335.3 225.3 L336.3 224.7 L337.3 224.0 L338.3 223.4 L339.3 222.8 L340.3 222.2 L341.3 221.5 L342.3 220.9 L343.3 220.3 L344.3 219.7 L345.3 219.1 L346.3 218.6 L347.3 218.0 L348.3 217.4 L349.3 216.8 L350.3 216.3 L351.3 215.7 L352.3 215.1 L353.3 214.6 L354.3 214.0 L355.3 213.5 L356.3 213.0 L357.3 212.4 L358.3 211.9 L359.3 211.4 L360.3 210.8 L361.3 210.3 L362.4 209.8 L363.4 209.3 L364.4 208.8 L365.4 208.3 L366.4 207.8 L367.4 207.3 L368.4 206.8 L369.4 206.4 L370.4 205.9 L371.4 205.4 L372.4 205.0 L373.4 204.5 L374.4 204.0 L375.4 203.6 L376.4 203.1 L377.4 202.7 L378.4 202.2 L379.4 201.8 L380.4 201.4 L381.4 200.9 L382.4 200.5 L383.4 200.1 L384.4 199.7 L385.4 199.2 L386.4 198.8 L387.4 198.4 L388.4 198.0 L389.4 197.6 L390.4 197.2 L391.4 196.8 L392.4 196.4 L393.4 196.0 L394.4 195.7 L395.4 195.3 L396.4 194.9 L397.4 194.5 L398.4 194.2 L399.4 193.8 L400.4 193.4 L401.4 193.1 L402.4 192.7 L403.4 192.3 L404.4 192.0 L405.4 191.6 L406.4 191.3 L407.4 190.9 L408.4 190.6 L409.4 190.3 L410.4 189.9 L411.4 189.6 L412.4 189.3 L413.4 188.9 L414.4 188.6 L415.4 188.3 L416.4 188.0 L417.4 187.7 L418.4 187.3 L419.4 187.0 L420.4 186.7 L421.4 186.4 L422.4 186.1 L423.4 185.8 L424.4 185.5 L425.4 185.2 L426.4 184.9 L427.4 184.6 L428.4 184.3 L429.4 184.1 L430.4 183.8 L431.4 183.5 L432.4 183.2 L433.4 182.9 L434.4 182.7 L435.4 182.4 L436.4 182.1 L437.4 181.9 L438.4 181.6 L439.4 181.3 L440.4 181.1 L441.4 180.8 L442.4 180.6 L443.4 180.3 L444.4 180.1 L445.4 179.8 L446.4 179.6 L447.4 179.3 L448.4 179.1 L449.4 178.9 L450.4 178.6 L451.4 178.4 L452.4 178.2 L453.4 177.9 L454.4 177.7 L455.4 177.5 L456.4 177.2 L457.4 177.0 L458.4 176.8 L459.4 176.6 L460.4 176.4 L461.4 176.2 L462.4 175.9 L463.4 175.7 L464.4 175.5 L465.4 175.3 L466.4 175.1 L467.4 174.9 L468.4 174.7 L469.4 174.5 L470.4 174.3 L471.4 174.1 L472.4 173.9 L473.4 173.7 L474.4 173.6 L475.4 173.4 L476.4 173.2 L477.4 173.0 L478.4 172.8 L479.4 172.6 L480.4 172.5 L481.4 172.3 L482.4 172.1 L483.4 171.9 L484.4 171.8 L485.4 171.6 L486.4 171.4 L487.4 171.3 L488.4 171.1 L489.4 170.9 L490.4 170.8 L491.4 170.6 L492.4 170.5 L493.4 170.3 L494.4 170.1 L495.4 170.0 L496.4 169.8 L497.4 169.7 L498.4 169.5 L499.4 169.4 L500.4 169.2 L501.4 169.1 L502.4 169.0 L503.4 168.8 L504.4 168.7 L505.4 168.5 L506.4 168.4 L507.4 168.3 L508.4 168.1 L509.4 168.0 L510.4 167.9 L511.4 167.7 L512.4 167.6 L513.4 167.5 L514.4 167.3 L515.4 167.2 L516.4 167.1 L517.4 167.0 L518.4 166.8 L519.4 166.7 L520.5 166.6 L521.5 166.5 L522.5 166.3 L523.5 166.2 L524.5 166.1 L525.5 166.0 L526.5 165.9 L527.5 165.8 L528.5 165.7 L529.5 165.5 L530.5 165.4 L531.5 165.3 L532.5 165.2 L533.5 165.1 L534.5 165.0 L535.5 164.9 L536.5 164.8 L537.5 164.7 L538.5 164.6 L539.5 164.5 L540.5 164.4 L541.5 164.3 L542.5 164.2 L543.5 164.1 L544.5 164.0 L545.5 163.9 L546.5 163.8 L547.5 163.7 L548.5 163.6 L549.5 163.5 L550.5 163.4 L551.5 163.3 L552.5 163.2 L553.5 163.1 L554.5 163.0 L555.5 162.9 L556.5 162.8 L557.5 162.7 L558.5 162.6 L559.5 162.5 L560.5 162.5 L561.5 162.4 L562.5 162.3 L563.5 162.2 L564.5 162.1 L565.5 162.0 L566.5 161.9 L567.5 161.8 L568.5 161.8 L569.5 161.7 L570.5 161.6 L571.5 161.5 L572.5 161.4 L573.5 161.3 L574.5 161.2 L575.5 161.2 L576.5 161.1 L577.5 161.0 L578.5 160.9 L579.5 160.8 L580.5 160.7 L581.5 160.7 L582.5 160.6 L583.5 160.5 L584.5 160.4 L585.5 160.3 L586.5 160.3 L587.5 160.2 L588.5 160.1 L589.5 160.0 L590.5 159.9 L591.5 159.8 L592.5 159.8 L593.5 159.7 L594.5 159.6 L595.5 159.5 L596.5 159.4 L597.5 159.4 L598.5 159.3 L599.5 159.3" fill="none" stroke="#20c41a" stroke-width="3.00" stroke-linejoin="round"/>
<path d="M127.0 379.7 L127.5 379.7 L128.0 379.7 L128.5 379.7 L129.0 379.6 L129.5 379.6 L130.0 379.6 L130.5 379.5 L131.0 379.5 L131.5 379.5 L132.0 379.4 L132.5 379.4 L133.0 379.3 L133.5 379.3 L134.0 379.3 L134.5 379.2 L135.0 379.2 L135.5 379.1" fill="none" stroke="#2e2e2e" stroke-width="3.20"/>
<path d="M149.8 377.6 L150.2 377.6 L150.8 377.5 L151.2 377.5 L151.8 377.4 L152.2 377.4 L152.8 377.3 L153.2 377.3 L153.8 377.3 L154.2 377.2 L154.8 377.2 L155.2 377.1 L155.8 377.1 L156.2 377.0 L156.8 377.0 L157.2 377.0 L157.8 376.9 L158.2 376.9 L158.8 376.8" fill="none" stroke="#2e2e2e" stroke-width="3.20"/>
<path d="M171.2 375.9 L171.8 375.9 L172.2 375.8 L172.8 375.8 L173.2 375.8 L173.8 375.7 L174.2 375.7 L174.8 375.7 L175.2 375.6 L175.8 375.6 L176.2 375.6 L176.8 375.5 L177.2 375.5 L177.8 375.5 L178.2 375.4 L178.8 375.4 L179.2 375.4 L179.8 375.3 L180.2 375.3" fill="none" stroke="#2e2e2e" stroke-width="3.20"/>
<path d="M240.0 371.5 L240.5 371.5 L241.0 371.5 L241.5 371.5 L242.0 371.5 L242.5 371.5 L243.0 371.4 L243.5 371.4 L244.0 371.4 L244.5 371.5 L245.0 371.5 L245.5 371.5 L246.0 371.5 L246.5 371.5 L247.0 371.5 L247.5 371.5 L248.0 371.6 L248.5 371.6 L249.0 371.6" fill="none" stroke="#2e2e2e" stroke-width="3.20"/>
<path d="M258.0 372.6 L258.5 372.6 L259.0 372.7 L259.5 372.8 L260.0 372.9 L260.5 372.9 L261.0 373.0 L261.5 373.1 L262.0 373.2 L262.5 373.2 L263.0 373.3 L263.5 373.4 L264.0 373.5 L264.5 373.6 L265.0 373.7 L265.5 373.8 L266.0 373.9 L266.5 374.0 L267.0 374.1" fill="none" stroke="#2e2e2e" stroke-width="3.20"/>
<line x1="328.65" y1="402.64" x2="336.55" y2="408.76" stroke="#2e2e2e" stroke-width="3.20"/>
<line x1="350.42" y1="419.35" x2="358.18" y2="425.65" stroke="#2e2e2e" stroke-width="3.20"/>
<line x1="371.31" y1="436.94" x2="378.89" y2="443.46" stroke="#2e2e2e" stroke-width="3.20"/>
<line x1="393.10" y1="455.64" x2="400.50" y2="462.36" stroke="#2e2e2e" stroke-width="3.20"/>
<line x1="412.87" y1="474.36" x2="420.13" y2="481.24" stroke="#2e2e2e" stroke-width="3.20"/>
<line x1="432.64" y1="493.10" x2="439.96" y2="499.90" stroke="#2e2e2e" stroke-width="3.20"/>
<line x1="452.32" y1="511.11" x2="459.68" y2="517.89" stroke="#2e2e2e" stroke-width="3.20"/>
<line x1="472.45" y1="529.78" x2="479.75" y2="536.62" stroke="#2e2e2e" stroke-width="3.20"/>
<line x1="491.34" y1="547.59" x2="498.66" y2="554.41" stroke="#2e2e2e" stroke-width="3.20"/>
<line x1="509.91" y1="564.72" x2="517.29" y2="571.48" stroke="#2e2e2e" stroke-width="3.20"/>
<line x1="527.94" y1="581.09" x2="535.26" y2="587.91" stroke="#2e2e2e" stroke-width="3.20"/>
<line x1="546.74" y1="598.79" x2="553.86" y2="605.81" stroke="#2e2e2e" stroke-width="3.20"/>
<line x1="565.08" y1="617.25" x2="571.92" y2="624.55" stroke="#2e2e2e" stroke-width="3.20"/>
<line x1="581.57" y1="635.57" x2="588.23" y2="643.03" stroke="#2e2e2e" stroke-width="3.20"/>
<path d="M126.8 373.8 L127.8 373.8 L128.8 372.8 L129.8 372.8 L130.8 373.7 L131.8 373.6 L132.8 373.5 L133.8 373.1 L134.8 373.4 L135.8 373.4 L136.8 373.4 L137.8 372.9 L138.8 373.2 L139.8 373.2 L140.8 373.6 L141.8 373.9 L142.8 373.8 L143.8 373.4 L144.8 373.2 L145.8 373.0 L146.8 372.8 L147.8 372.7 L148.8 373.3 L149.8 373.1 L150.8 373.2 L151.8 373.8 L152.8 373.4 L153.8 373.4 L154.8 373.0 L155.8 372.8 L156.8 373.1 L157.8 372.9 L158.8 373.4 L159.8 373.9 L160.8 373.6 L161.8 373.0 L162.8 373.8 L163.8 373.7 L164.8 373.6 L165.8 373.8 L166.8 373.7 L167.8 373.7 L168.8 373.2 L169.8 374.0 L170.8 373.9 L171.8 373.0 L172.8 373.7 L173.8 373.7 L174.9 373.4 L175.9 373.4 L176.9 373.4 L177.9 373.9 L178.9 373.4 L179.9 373.8 L180.9 373.3 L181.9 373.9 L182.9 373.9 L183.9 373.4 L184.9 373.5 L185.9 374.0 L186.9 373.7 L187.9 373.5 L188.9 373.1 L189.9 373.3 L190.9 373.7 L191.9 373.1 L192.9 374.0 L193.9 373.2 L194.9 374.0 L195.9 373.3 L196.9 374.1 L197.9 373.8 L198.9 373.6 L199.9 373.6 L200.9 373.8 L201.9 373.7 L202.9 373.4 L203.9 373.2 L204.9 373.6 L205.9 374.1 L206.9 373.8 L207.9 373.1 L208.9 374.0 L209.9 373.9 L210.9 374.2 L211.9 373.3 L212.9 374.0 L213.9 373.2 L214.9 373.9 L215.9 373.5 L216.9 373.4 L217.9 374.2 L218.9 373.3 L219.9 373.8 L220.9 374.2 L221.9 373.5 L222.9 373.5 L223.9 374.3 L224.9 373.7 L225.9 374.1 L226.9 373.3 L227.9 373.7 L228.9 373.5 L229.9 374.1 L230.9 373.4 L231.9 374.5 L232.9 373.4 L233.9 374.2 L234.9 373.4 L235.9 373.7 L236.9 374.4 L237.9 373.6 L238.9 373.7 L239.9 374.3 L240.9 373.9 L241.9 373.6 L242.9 374.7 L243.9 373.7 L244.9 373.6 L245.9 374.0 L246.9 374.3 L247.9 374.5 L248.9 373.8 L249.9 374.1 L250.9 373.7 L251.9 374.2 L252.9 374.6 L253.9 374.6 L254.9 374.8 L255.9 374.7 L256.9 374.8 L257.9 374.7 L258.9 374.4 L259.9 374.2 L260.9 374.7 L261.9 374.4 L262.9 374.2 L263.9 374.8 L264.9 375.4 L265.9 374.7 L266.9 375.5 L267.9 375.5 L269.0 375.9 L270.0 375.8 L271.0 377.1 L272.0 376.6 L273.0 377.3 L274.0 377.4 L275.0 377.3 L276.0 378.3 L277.0 378.1 L278.0 378.3 L279.0 378.5 L280.0 378.9 L281.0 379.1 L282.0 380.0 L283.0 380.0 L284.0 380.8 L285.0 380.9 L286.0 381.2 L287.0 380.5 L288.0 380.9 L289.0 380.9 L290.0 381.5 L291.0 381.7 L292.0 382.1 L293.0 382.2 L294.0 381.9 L295.0 382.3 L296.0 382.6 L297.0 382.2 L298.0 382.5 L299.0 383.2 L300.0 383.1 L301.0 384.1 L302.0 383.8 L303.0 383.9 L304.0 384.3 L305.0 384.7 L306.0 385.0 L307.0 385.6 L308.0 385.9 L309.0 386.0 L310.0 386.7 L311.0 386.5 L312.0 387.7 L313.0 388.1 L314.0 388.2 L315.0 388.1 L316.0 388.6 L317.0 389.0 L318.0 388.8 L319.0 389.6 L320.0 390.1 L321.0 390.1 L322.0 390.4 L323.0 391.6 L324.0 391.5 L325.0 392.1 L326.0 393.0 L327.0 393.1 L328.0 393.1 L329.0 394.4 L330.0 394.0 L331.0 394.0 L332.0 395.2 L333.0 394.9 L334.0 395.5 L335.0 396.6 L336.0 396.8 L337.0 396.4 L338.0 397.3 L339.0 397.6 L340.0 398.1 L341.0 398.1 L342.0 398.9 L343.0 398.7 L344.0 399.3 L345.0 399.7 L346.0 400.8 L347.0 400.0 L348.0 401.2 L349.0 400.8 L350.0 401.6 L351.0 401.6 L352.0 402.0 L353.0 402.6 L354.0 402.4 L355.0 402.4 L356.0 402.6 L357.0 402.7 L358.0 403.8 L359.0 403.7 L360.0 404.3 L361.0 404.1 L362.0 403.4 L363.0 404.2 L364.1 404.4 L365.1 404.4 L366.1 404.2 L367.1 404.1 L368.1 404.3 L369.1 404.7 L370.1 404.1 L371.1 404.5 L372.1 404.5 L373.1 405.1 L374.1 405.0 L375.1 405.1 L376.1 405.1 L377.1 404.5 L378.1 404.4 L379.1 404.8 L380.1 404.5 L381.1 404.7 L382.1 405.1 L383.1 405.4 L384.1 405.0 L385.1 405.3 L386.1 404.5 L387.1 404.8 L388.1 405.6 L389.1 404.6 L390.1 405.0 L391.1 404.6 L392.1 404.6 L393.1 405.6 L394.1 405.8 L395.1 405.4 L396.1 404.8 L397.1 405.0 L398.1 405.0 L399.1 405.5 L400.1 405.5 L401.1 405.3 L402.1 405.4 L403.1 404.9 L404.1 405.4 L405.1 406.0 L406.1 405.7 L407.1 405.0 L408.1 405.5 L409.1 405.7 L410.1 405.2 L411.1 406.0 L412.1 405.5 L413.1 405.8 L414.1 405.4 L415.1 406.2 L416.1 405.9 L417.1 405.7 L418.1 405.2 L419.1 405.6 L420.1 405.1 L421.1 405.8 L422.1 406.1 L423.1 405.3 L424.1 405.7 L425.1 405.7 L426.1 405.6 L427.1 406.0 L428.1 406.3 L429.1 406.0 L430.1 405.8 L431.1 406.4 L432.1 405.6 L433.1 406.1 L434.1 406.0 L435.1 406.2 L436.1 406.3 L437.1 405.6 L438.1 406.0 L439.1 405.8 L440.1 406.1 L441.1 406.5 L442.1 406.1 L443.1 405.4 L444.1 405.9 L445.1 406.2 L446.1 406.5 L447.1 406.2 L448.1 406.4 L449.1 405.5 L450.1 406.6 L451.1 406.3 L452.1 406.2 L453.1 406.6 L454.1 406.6 L455.1 405.6 L456.1 406.5 L457.1 406.5 L458.2 405.8 L459.2 406.5 L460.2 406.3 L461.2 405.8 L462.2 406.6 L463.2 405.8 L464.2 406.4 L465.2 406.2 L466.2 406.0 L467.2 406.4 L468.2 406.3 L469.2 406.0 L470.2 406.9 L471.2 405.9 L472.2 405.8 L473.2 406.4 L474.2 406.8 L475.2 406.6 L476.2 406.8 L477.2 406.5 L478.2 406.8 L479.2 406.4 L480.2 406.3 L481.2 406.7 L482.2 406.2 L483.2 406.3 L484.2 407.2 L485.2 406.5 L486.2 407.3 L487.2 407.4 L488.2 407.0 L489.2 407.4 L490.2 407.6 L491.2 407.8 L492.2 407.0 L493.2 407.2 L494.2 407.5 L495.2 407.7 L496.2 407.6 L497.2 407.4 L498.2 408.1 L499.2 408.7 L500.2 408.1 L501.2 408.4 L502.2 408.3 L503.2 408.5 L504.2 409.1 L505.2 408.6 L506.2 409.1 L507.2 409.0 L508.2 409.1 L509.2 409.7 L510.2 408.8 L511.2 409.8 L512.2 409.2 L513.2 409.7 L514.2 410.0 L515.2 409.9 L516.2 409.7 L517.2 410.3 L518.2 409.4 L519.2 410.2 L520.2 409.9 L521.2 410.2 L522.2 410.6 L523.2 410.6 L524.2 410.5 L525.2 410.2 L526.2 410.1 L527.2 410.5 L528.2 410.3 L529.2 410.4 L530.2 411.2 L531.2 410.3 L532.2 411.2 L533.2 410.7 L534.2 410.8 L535.2 410.8 L536.2 410.5 L537.2 411.1 L538.2 410.8 L539.2 411.2 L540.2 411.0 L541.2 411.8 L542.2 411.9 L543.2 411.4 L544.2 411.7 L545.2 412.1 L546.2 411.4 L547.2 411.2 L548.2 411.5 L549.2 411.5 L550.2 412.1 L551.2 411.8 L552.3 411.9 L553.3 412.5 L554.3 411.9 L555.3 412.7 L556.3 412.5 L557.3 412.3 L558.3 412.9 L559.3 412.4 L560.3 413.2 L561.3 413.3 L562.3 412.9 L563.3 413.2 L564.3 413.6 L565.3 413.5 L566.3 413.6 L567.3 413.8 L568.3 414.0 L569.3 413.9 L570.3 414.2 L571.3 413.5 L572.3 414.0 L573.3 414.2 L574.3 413.9 L575.3 414.0 L576.3 413.9 L577.3 414.9 L578.3 414.3 L579.3 414.6 L580.3 415.2 L581.3 414.4 L582.3 415.5 L583.3 414.6 L584.3 414.6 L585.3 415.1 L586.3 415.2 L587.3 416.0 L588.3 416.1 L589.3 416.1 L590.3 415.8 L591.3 416.0 L592.3 415.8 L593.3 416.6 L594.3 416.2 L595.3 416.2 L596.3 416.8 L597.3 416.3 L598.3 416.6 L599.3 417.4" fill="none" stroke="#1010d8" stroke-width="3.00" stroke-linejoin="round"/>
<path d="M126.8 374.4 L127.8 374.6 L128.8 374.5 L129.8 374.6 L130.8 374.7 L131.8 374.2 L132.8 374.1 L133.8 374.8 L134.8 374.3 L135.8 374.3 L136.8 374.9 L137.8 374.5 L138.8 374.8 L139.8 374.5 L140.8 374.6 L141.8 374.2 L142.8 374.6 L143.8 374.7 L144.8 374.4 L145.8 374.6 L146.8 374.5 L147.8 374.1 L148.8 374.6 L149.8 374.5 L150.8 374.2 L151.8 374.0 L152.8 374.7 L153.8 374.3 L154.8 374.5 L155.8 374.6 L156.8 374.5 L157.8 374.7 L158.8 374.2 L159.8 374.6 L160.8 374.3 L161.8 374.7 L162.8 374.6 L163.8 374.0 L164.8 374.0 L165.8 374.1 L166.8 374.7 L167.8 374.2 L168.8 374.4 L169.8 374.1 L170.8 374.3 L171.8 374.2 L172.8 374.1 L173.8 374.3 L174.9 374.3 L175.9 374.6 L176.9 374.4 L177.9 374.6 L178.9 374.5 L179.9 374.6 L180.9 374.3 L181.9 373.9 L182.9 374.5 L183.9 374.6 L184.9 374.5 L185.9 374.2 L186.9 374.4 L187.9 374.0 L188.9 374.4 L189.9 374.2 L190.9 374.0 L191.9 373.8 L192.9 374.5 L193.9 374.6 L194.9 373.8 L195.9 374.4 L196.9 374.1 L197.9 373.9 L198.9 374.0 L199.9 374.4 L200.9 374.4 L201.9 373.8 L202.9 374.2 L203.9 373.8 L204.9 374.3 L205.9 374.0 L206.9 374.4 L207.9 374.5 L208.9 374.1 L209.9 374.5 L210.9 374.0 L211.9 373.8 L212.9 374.2 L213.9 373.8 L214.9 373.9 L215.9 374.0 L216.9 374.2 L217.9 373.8 L218.9 373.8 L219.9 374.4 L220.9 374.0 L221.9 374.5 L222.9 374.4 L223.9 374.0 L224.9 374.1 L225.9 374.1 L226.9 374.2 L227.9 374.2 L228.9 374.2 L229.9 374.2 L230.9 374.5 L231.9 374.1 L232.9 374.1 L233.9 374.3 L234.9 373.9 L235.9 373.9 L236.9 374.5 L237.9 374.1 L238.9 374.1 L239.9 373.7 L240.9 374.0 L241.9 374.2 L242.9 373.7 L243.9 374.2 L244.9 374.2 L245.9 373.7 L246.9 374.2 L247.9 374.1 L248.9 374.2 L249.9 374.0 L250.9 374.3 L251.9 374.3 L252.9 373.7 L253.9 373.7 L254.9 374.2 L255.9 374.5 L256.9 373.9 L257.9 374.1 L258.9 374.2 L259.9 374.0 L260.9 374.0 L261.9 374.0 L262.9 374.1 L263.9 374.3 L264.9 374.1 L265.9 374.3 L266.9 374.7 L267.9 374.3 L269.0 374.9 L270.0 375.2 L271.0 375.1 L272.0 375.3 L273.0 376.0 L274.0 375.8 L275.0 376.0 L276.0 376.4 L277.0 376.8 L278.0 376.5 L279.0 376.9 L280.0 377.1 L281.0 377.6 L282.0 377.5 L283.0 378.0 L284.0 377.6 L285.0 377.9 L286.0 378.3 L287.0 378.6 L288.0 378.4 L289.0 378.3 L290.0 378.4 L291.0 378.9 L292.0 378.7 L293.0 379.4 L294.0 379.5 L295.0 379.1 L296.0 379.3 L297.0 379.9 L298.0 379.9 L299.0 380.2 L300.0 379.9 L301.0 379.9 L302.0 380.1 L303.0 380.7 L304.0 380.4 L305.0 380.6 L306.0 380.7 L307.0 380.9 L308.0 381.0 L309.0 381.5 L310.0 381.0 L311.0 381.0 L312.0 381.9 L313.0 381.9 L314.0 382.1 L315.0 381.8 L316.0 382.3 L317.0 382.4 L318.0 382.0 L319.0 382.5 L320.0 382.7 L321.0 382.7 L322.0 382.7 L323.0 382.6 L324.0 382.7 L325.0 382.8 L326.0 382.7 L327.0 383.3 L328.0 383.1 L329.0 383.6 L330.0 383.1 L331.0 383.9 L332.0 383.8 L333.0 384.0 L334.0 384.1 L335.0 384.1 L336.0 383.9 L337.0 383.5 L338.0 384.1 L339.0 383.7 L340.0 383.9 L341.0 384.2 L342.0 384.1 L343.0 384.1 L344.0 384.5 L345.0 384.3 L346.0 384.1 L347.0 384.1 L348.0 384.6 L349.0 384.3 L350.0 384.6 L351.0 384.2 L352.0 384.1 L353.0 384.4 L354.0 384.6 L355.0 384.1 L356.0 384.6 L357.0 384.7 L358.0 384.6 L359.0 384.7 L360.0 384.0 L361.0 384.5 L362.0 384.7 L363.0 384.0 L364.1 384.2 L365.1 384.2 L366.1 384.4 L367.1 384.3 L368.1 384.3 L369.1 384.6 L370.1 383.9 L371.1 384.0 L372.1 384.0 L373.1 384.0 L374.1 384.0 L375.1 384.7 L376.1 384.6 L377.1 383.9 L378.1 384.3 L379.1 384.1 L380.1 384.1 L381.1 384.1 L382.1 384.3 L383.1 384.3 L384.1 384.1 L385.1 383.9 L386.1 384.0 L387.1 383.8 L388.1 384.2 L389.1 384.3 L390.1 384.0 L391.1 383.8 L392.1 383.8 L393.1 384.0 L394.1 384.1 L395.1 384.2 L396.1 383.9 L397.1 384.2 L398.1 384.1 L399.1 383.9 L400.1 383.8 L401.1 383.9 L402.1 384.1 L403.1 383.8 L404.1 384.0 L405.1 383.8 L406.1 383.6 L407.1 383.8 L408.1 383.9 L409.1 383.4 L410.1 383.6 L411.1 383.6 L412.1 383.9 L413.1 383.9 L414.1 383.4 L415.1 383.7 L416.1 383.6 L417.1 383.1 L418.1 383.2 L419.1 382.8 L420.1 383.3 L421.1 383.1 L422.1 383.2 L423.1 383.1 L424.1 382.9 L425.1 382.9 L426.1 382.6 L427.1 382.2 L428.1 382.5 L429.1 382.0 L430.1 382.0 L431.1 382.5 L432.1 381.8 L433.1 381.8 L434.1 381.8 L435.1 382.3 L436.1 381.7 L437.1 381.6 L438.1 382.2 L439.1 381.6 L440.1 382.1 L441.1 382.0 L442.1 382.1 L443.1 382.1 L444.1 381.8 L445.1 382.0 L446.1 381.4 L447.1 381.9 L448.1 381.7 L449.1 381.8 L450.1 381.3 L451.1 381.8 L452.1 382.0 L453.1 381.3 L454.1 381.5 L455.1 381.6 L456.1 381.8 L457.1 381.3 L458.2 381.3 L459.2 381.3 L460.2 381.6 L461.2 381.7 L462.2 381.4 L463.2 381.4 L464.2 381.4 L465.2 381.3 L466.2 381.4 L467.2 381.1 L468.2 381.4 L469.2 381.8 L470.2 381.3 L471.2 381.6 L472.2 381.1 L473.2 381.5 L474.2 381.5 L475.2 381.5 L476.2 381.3 L477.2 381.3 L478.2 381.4 L479.2 381.6 L480.2 381.0 L481.2 380.9 L482.2 381.4 L483.2 381.5 L484.2 381.2 L485.2 381.1 L486.2 381.3 L487.2 380.8 L488.2 380.9 L489.2 380.8 L490.2 381.1 L491.2 380.8 L492.2 380.7 L493.2 381.0 L494.2 381.2 L495.2 380.6 L496.2 380.9 L497.2 380.6 L498.2 380.9 L499.2 380.7 L500.2 380.4 L501.2 380.3 L502.2 380.1 L503.2 380.4 L504.2 380.2 L505.2 380.0 L506.2 380.1 L507.2 380.0 L508.2 380.3 L509.2 379.8 L510.2 380.4 L511.2 379.9 L512.2 379.9 L513.2 379.8 L514.2 380.0 L515.2 379.9 L516.2 379.7 L517.2 379.5 L518.2 379.7 L519.2 379.7 L520.2 379.3 L521.2 379.5 L522.2 379.6 L523.2 379.2 L524.2 378.9 L525.2 378.9 L526.2 379.2 L527.2 379.1 L528.2 379.3 L529.2 379.2 L530.2 378.6 L531.2 378.5 L532.2 378.6 L533.2 378.5 L534.2 378.8 L535.2 378.9 L536.2 378.9 L537.2 378.4 L538.2 378.8 L539.2 378.3 L540.2 378.4 L541.2 378.6 L542.2 378.1 L543.2 378.0 L544.2 378.6 L545.2 378.1 L546.2 378.2 L547.2 378.3 L548.2 378.4 L549.2 377.8 L550.2 378.0 L551.2 378.1 L552.3 378.1 L553.3 377.9 L554.3 378.1 L555.3 378.4 L556.3 377.9 L557.3 378.0 L558.3 377.7 L559.3 377.8 L560.3 378.0 L561.3 377.6 L562.3 378.2 L563.3 378.2 L564.3 377.5 L565.3 378.2 L566.3 377.7 L567.3 378.0 L568.3 377.9 L569.3 377.5 L570.3 377.8 L571.3 377.8 L572.3 377.9 L573.3 377.4 L574.3 377.8 L575.3 378.0 L576.3 377.7 L577.3 377.6 L578.3 377.2 L579.3 377.5 L580.3 377.4 L581.3 377.7 L582.3 377.6 L583.3 377.5 L584.3 377.2 L585.3 377.5 L586.3 377.5 L587.3 377.1 L588.3 377.7 L589.3 377.5 L590.3 377.0 L591.3 377.7 L592.3 377.0 L593.3 377.1 L594.3 377.4 L595.3 377.3 L596.3 377.3 L597.3 377.4 L598.3 377.2 L599.3 377.1" fill="none" stroke="#e0141c" stroke-width="3.00" stroke-linejoin="round"/>
<path d="M126.8 372.9 L127.8 373.6 L128.8 373.6 L129.8 373.1 L130.8 373.3 L131.8 373.3 L132.8 373.5 L133.8 373.6 L134.8 372.9 L135.8 372.8 L136.8 373.6 L137.8 373.2 L138.8 373.6 L139.8 372.8 L140.8 373.3 L141.8 373.5 L142.8 373.0 L143.8 373.8 L144.8 373.7 L145.8 372.8 L146.8 372.8 L147.8 373.4 L148.8 373.8 L149.8 373.2 L150.8 373.0 L151.8 373.2 L152.8 372.8 L153.8 373.0 L154.8 373.3 L155.8 373.3 L156.8 373.1 L157.8 373.1 L158.8 373.0 L159.8 373.3 L160.8 373.1 L161.8 372.9 L162.8 373.7 L163.8 373.4 L164.8 373.5 L165.8 373.0 L166.8 373.8 L167.8 373.7 L168.8 373.0 L169.8 373.2 L170.8 373.6 L171.8 373.6 L172.8 373.8 L173.8 373.3 L174.9 373.7 L175.9 373.5 L176.9 373.2 L177.9 373.5 L178.9 373.8 L179.9 373.7 L180.9 373.4 L181.9 373.5 L182.9 372.9 L183.9 373.1 L184.9 373.7 L185.9 373.3 L186.9 373.1 L187.9 373.5 L188.9 373.6 L189.9 373.6 L190.9 373.3 L191.9 373.4 L192.9 373.4 L193.9 373.7 L194.9 373.5 L195.9 373.3 L196.9 373.4 L197.9 373.0 L198.9 373.0 L199.9 373.7 L200.9 373.9 L201.9 373.6 L202.9 373.4 L203.9 373.1 L204.9 373.5 L205.9 374.0 L206.9 373.8 L207.9 373.5 L208.9 373.9 L209.9 373.2 L210.9 373.5 L211.9 374.0 L212.9 373.6 L213.9 373.5 L214.9 373.3 L215.9 373.6 L216.9 374.0 L217.9 373.1 L218.9 373.8 L219.9 373.9 L220.9 374.0 L221.9 373.8 L222.9 373.9 L223.9 373.6 L224.9 373.7 L225.9 373.5 L226.9 373.2 L227.9 374.0 L228.9 373.7 L229.9 373.3 L230.9 373.7 L231.9 373.6 L232.9 373.5 L233.9 373.5 L234.9 373.7 L235.9 373.8 L236.9 373.8 L237.9 373.7 L238.9 373.3 L239.9 373.5 L240.9 373.5 L241.9 373.9 L242.9 374.2 L243.9 374.2 L244.9 374.3 L245.9 374.4 L246.9 373.9 L247.9 374.5 L248.9 374.4 L249.9 373.9 L250.9 373.9 L251.9 374.0 L252.9 374.8 L253.9 374.4 L254.9 374.4 L255.9 375.0 L256.9 374.8 L257.9 374.7 L258.9 374.9 L259.9 375.3 L260.9 375.1 L261.9 375.3 L262.9 375.9 L263.9 375.8 L264.9 375.8 L265.9 376.1 L266.9 375.8 L267.9 376.4 L269.0 376.6 L270.0 376.6 L271.0 376.8 L272.0 377.8 L273.0 377.7 L274.0 377.7 L275.0 378.4 L276.0 379.0 L277.0 378.6 L278.0 379.0 L279.0 379.6 L280.0 380.7 L281.0 380.6 L282.0 381.6 L283.0 382.0 L284.0 382.3 L285.0 382.4 L286.0 383.6 L287.0 383.9 L288.0 384.0 L289.0 384.2 L290.0 385.0 L291.0 385.2 L292.0 385.8 L293.0 385.9 L294.0 386.6 L295.0 386.5 L296.0 387.1 L297.0 388.2 L298.0 388.5 L299.0 388.3 L300.0 389.3 L301.0 389.1 L302.0 390.2 L303.0 390.4 L304.0 390.5 L305.0 390.7 L306.0 390.9 L307.0 392.1 L308.0 391.7 L309.0 392.9 L310.0 393.5 L311.0 393.5 L312.0 393.5 L313.0 394.6 L314.0 395.1 L315.0 395.2 L316.0 395.4 L317.0 395.7 L318.0 396.1 L319.0 396.3 L320.0 397.2 L321.0 397.3 L322.0 397.5 L323.0 397.8 L324.0 398.7 L325.0 398.8 L326.0 399.3 L327.0 399.6 L328.0 400.5 L329.0 400.9 L330.0 400.4 L331.0 400.9 L332.0 401.4 L333.0 402.5 L334.0 402.6 L335.0 402.5 L336.0 402.8 L337.0 403.6 L338.0 404.1 L339.0 404.6 L340.0 404.4 L341.0 405.3 L342.0 405.4 L343.0 405.6 L344.0 406.5 L345.0 406.1 L346.0 406.9 L347.0 406.7 L348.0 407.1 L349.0 408.2 L350.0 407.9 L351.0 408.9 L352.0 409.1 L353.0 409.7 L354.0 409.6 L355.0 410.0 L356.0 410.4 L357.0 411.3 L358.0 411.5 L359.0 412.2 L360.0 412.6 L361.0 412.2 L362.0 413.1 L363.0 413.0 L364.1 413.4 L365.1 413.8 L366.1 415.0 L367.1 415.4 L368.1 415.8 L369.1 415.7 L370.1 416.4 L371.1 417.0 L372.1 416.9 L373.1 417.5 L374.1 417.6 L375.1 417.8 L376.1 418.3 L377.1 419.3 L378.1 419.4 L379.1 420.1 L380.1 420.0 L381.1 420.1 L382.1 421.0 L383.1 421.3 L384.1 420.8 L385.1 421.8 L386.1 421.6 L387.1 421.9 L388.1 423.0 L389.1 422.4 L390.1 422.9 L391.1 424.0 L392.1 423.7 L393.1 423.7 L394.1 424.0 L395.1 424.4 L396.1 425.2 L397.1 424.8 L398.1 425.9 L399.1 425.7 L400.1 426.6 L401.1 426.8 L402.1 426.5 L403.1 426.7 L404.1 427.2 L405.1 427.1 L406.1 428.0 L407.1 427.7 L408.1 427.9 L409.1 429.2 L410.1 428.8 L411.1 429.4 L412.1 429.5 L413.1 429.7 L414.1 429.7 L415.1 430.9 L416.1 431.2 L417.1 431.5 L418.1 430.9 L419.1 431.3 L420.1 431.9 L421.1 432.5 L422.1 432.3 L423.1 432.7 L424.1 432.9 L425.1 432.8 L426.1 433.2 L427.1 433.2 L428.1 433.4 L429.1 433.4 L430.1 433.8 L431.1 434.6 L432.1 434.3 L433.1 434.7 L434.1 434.8 L435.1 435.3 L436.1 434.9 L437.1 434.9 L438.1 435.1 L439.1 435.3 L440.1 435.9 L441.1 436.1 L442.1 435.7 L443.1 435.8 L444.1 436.2 L445.1 436.4 L446.1 436.5 L447.1 436.3 L448.1 436.2 L449.1 436.6 L450.1 436.6 L451.1 437.2 L452.1 436.8 L453.1 437.0 L454.1 437.7 L455.1 437.5 L456.1 438.2 L457.1 438.0 L458.2 438.5 L459.2 438.0 L460.2 438.5 L461.2 438.9 L462.2 438.4 L463.2 439.4 L464.2 438.8 L465.2 439.5 L466.2 439.9 L467.2 439.9 L468.2 439.5 L469.2 439.5 L470.2 440.0 L471.2 440.6 L472.2 440.1 L473.2 440.9 L474.2 440.3 L475.2 441.2 L476.2 440.5 L477.2 440.9 L478.2 441.6 L479.2 441.7 L480.2 442.0 L481.2 442.0 L482.2 442.1 L483.2 442.2 L484.2 441.9 L485.2 442.3 L486.2 442.2 L487.2 442.9 L488.2 443.0 L489.2 442.8 L490.2 442.8 L491.2 443.9 L492.2 443.9 L493.2 443.8 L494.2 444.0 L495.2 444.5 L496.2 444.3 L497.2 444.4 L498.2 444.6 L499.2 444.7 L500.2 444.7 L501.2 445.6 L502.2 445.6 L503.2 446.0 L504.2 445.7 L505.2 446.2 L506.2 446.3 L507.2 446.5 L508.2 446.9 L509.2 447.7 L510.2 447.5 L511.2 447.7 L512.2 448.2 L513.2 448.0 L514.2 448.0 L515.2 448.7 L516.2 448.8 L517.2 449.2 L518.2 449.1 L519.2 449.5 L520.2 449.7 L521.2 449.4 L522.2 449.8 L523.2 449.9 L524.2 449.8 L525.2 450.1 L526.2 450.4 L527.2 450.9 L528.2 451.0 L529.2 450.5 L530.2 451.0 L531.2 450.5 L532.2 450.6 L533.2 451.2 L534.2 451.7 L535.2 451.1 L536.2 451.8 L537.2 452.0 L538.2 451.5 L539.2 452.0 L540.2 452.3 L541.2 451.9 L542.2 452.4 L543.2 452.5 L544.2 452.5 L545.2 452.9 L546.2 453.0 L547.2 453.2 L548.2 453.0 L549.2 452.7 L550.2 452.9 L551.2 453.0 L552.3 453.5 L553.3 453.8 L554.3 453.2 L555.3 454.0 L556.3 454.2 L557.3 453.9 L558.3 454.3 L559.3 454.0 L560.3 454.8 L561.3 454.2 L562.3 455.3 L563.3 455.3 L564.3 455.3 L565.3 455.1 L566.3 455.9 L567.3 456.1 L568.3 455.4 L569.3 456.2 L570.3 456.4 L571.3 456.4 L572.3 456.6 L573.3 456.5 L574.3 457.2 L575.3 457.4 L576.3 457.0 L577.3 457.5 L578.3 457.3 L579.3 457.2 L580.3 457.6 L581.3 457.6 L582.3 458.5 L583.3 458.7 L584.3 458.1 L585.3 458.7 L586.3 458.7 L587.3 458.6 L588.3 459.0 L589.3 459.1 L590.3 459.8 L591.3 459.2 L592.3 459.6 L593.3 460.0 L594.3 459.8 L595.3 460.6 L596.3 460.7 L597.3 461.1 L598.3 460.6 L599.3 460.8" fill="none" stroke="#20c41a" stroke-width="3.00" stroke-linejoin="round"/>
<path d="M787.4 341.3 L788.4 341.3 L789.4 341.3 L790.4 341.3 L791.4 341.3 L792.4 341.4 L793.4 341.4 L794.4 341.4 L795.4 341.4 L796.4 341.4 L797.4 341.4 L798.4 341.4 L799.4 341.4 L800.4 341.4 L801.4 341.4 L802.4 341.3 L803.4 341.3 L804.4 341.3 L805.4 341.3 L806.4 341.3 L807.4 341.2 L808.4 341.2 L809.4 341.1 L810.4 341.1 L811.4 341.0 L812.4 341.0 L813.4 340.9 L814.4 340.9 L815.4 340.8 L816.4 340.7 L817.4 340.6 L818.4 340.5 L819.4 340.4 L820.4 340.3 L821.4 340.2 L822.4 340.1 L823.4 340.0 L824.4 339.9 L825.4 339.7 L826.4 339.6 L827.4 339.4 L828.4 339.3 L829.4 339.1 L830.4 338.9 L831.4 338.7 L832.4 338.5 L833.4 338.3 L834.4 338.1 L835.4 337.9 L836.4 337.7 L837.4 337.4 L838.4 337.2 L839.4 336.9 L840.4 336.7 L841.4 336.4 L842.4 336.1 L843.4 335.8 L844.4 335.5 L845.4 335.2 L846.4 334.8 L847.4 334.5 L848.4 334.1 L849.4 333.8 L850.4 333.4 L851.4 333.0 L852.4 332.6 L853.4 332.2 L854.4 331.8 L855.4 331.3 L856.4 330.9 L857.4 330.4 L858.4 329.9 L859.4 329.4 L860.4 328.9 L861.4 328.4 L862.4 327.9 L863.4 327.3 L864.4 326.8 L865.4 326.2 L866.4 325.6 L867.4 325.0 L868.4 324.4 L869.4 323.7 L870.4 323.1 L871.4 322.4 L872.4 321.7 L873.4 321.0 L874.4 320.3 L875.4 319.6 L876.4 318.9 L877.4 318.2 L878.4 317.4 L879.4 316.6 L880.4 315.9 L881.4 315.1 L882.4 314.3 L883.4 313.5 L884.4 312.7 L885.4 311.9 L886.4 311.1 L887.4 310.3 L888.4 309.5 L889.4 308.7 L890.4 307.8 L891.4 307.0 L892.4 306.2 L893.4 305.3 L894.4 304.5 L895.4 303.7 L896.4 302.9 L897.4 302.0 L898.4 301.2 L899.4 300.4 L900.4 299.6 L901.4 298.7 L902.4 297.9 L903.4 297.1 L904.4 296.3 L905.4 295.5 L906.4 294.7 L907.4 293.9 L908.4 293.1 L909.4 292.3 L910.4 291.5 L911.4 290.8 L912.4 290.0 L913.4 289.2 L914.4 288.4 L915.4 287.7 L916.4 286.9 L917.4 286.2 L918.4 285.4 L919.4 284.7 L920.4 283.9 L921.4 283.2 L922.4 282.5 L923.4 281.7 L924.4 281.0 L925.4 280.3 L926.4 279.6 L927.4 278.9 L928.4 278.2 L929.4 277.5 L930.4 276.8 L931.4 276.1 L932.4 275.4 L933.4 274.7 L934.4 274.1 L935.4 273.4 L936.4 272.7 L937.4 272.1 L938.4 271.4 L939.4 270.8 L940.4 270.1 L941.4 269.5 L942.4 268.9 L943.4 268.3 L944.4 267.7 L945.4 267.1 L946.4 266.5 L947.4 265.9 L948.4 265.3 L949.4 264.7 L950.4 264.1 L951.4 263.6 L952.4 263.0 L953.4 262.4 L954.4 261.9 L955.4 261.3 L956.4 260.8 L957.4 260.3 L958.4 259.8 L959.4 259.3 L960.4 258.8 L961.4 258.3 L962.4 257.8 L963.4 257.3 L964.4 256.8 L965.4 256.3 L966.4 255.9 L967.4 255.4 L968.4 255.0 L969.4 254.5 L970.4 254.1 L971.4 253.7 L972.4 253.3 L973.4 252.9 L974.4 252.5 L975.4 252.1 L976.4 251.7 L977.4 251.3 L978.4 250.9 L979.4 250.6 L980.4 250.2 L981.4 249.9 L982.4 249.5 L983.4 249.2 L984.4 248.9 L985.4 248.5 L986.4 248.2 L987.4 247.9 L988.4 247.6 L989.4 247.3 L990.4 247.0 L991.4 246.7 L992.4 246.5 L993.4 246.2 L994.4 245.9 L995.4 245.6 L996.4 245.4 L997.4 245.1 L998.4 244.9 L999.4 244.6 L1000.4 244.4 L1001.4 244.2 L1002.4 243.9 L1003.4 243.7 L1004.4 243.5 L1005.4 243.3 L1006.4 243.1 L1007.4 242.9 L1008.4 242.7 L1009.4 242.5 L1010.4 242.3 L1011.4 242.1 L1012.4 241.9 L1013.4 241.7 L1014.4 241.5 L1015.4 241.4 L1016.4 241.2 L1017.4 241.0 L1018.4 240.8 L1019.4 240.7 L1020.4 240.5 L1021.4 240.4 L1022.4 240.2 L1023.4 240.1 L1024.4 239.9 L1025.4 239.8 L1026.4 239.6 L1027.4 239.5 L1028.4 239.3 L1029.4 239.2 L1030.4 239.1 L1031.4 238.9 L1032.4 238.8 L1033.4 238.7 L1034.4 238.6 L1035.4 238.4 L1036.4 238.3 L1037.4 238.2 L1038.4 238.1 L1039.4 237.9 L1040.4 237.8 L1041.4 237.7 L1042.4 237.6 L1043.4 237.5 L1044.4 237.4 L1045.4 237.2 L1046.4 237.1 L1047.4 237.0 L1048.4 236.9 L1049.4 236.8 L1050.4 236.7 L1051.4 236.6 L1052.4 236.4 L1053.4 236.3 L1054.4 236.2 L1055.4 236.1 L1056.4 236.0 L1057.4 235.9 L1058.4 235.8 L1059.4 235.6 L1060.4 235.5 L1061.4 235.4 L1062.4 235.3 L1063.4 235.2 L1064.4 235.1 L1065.4 234.9 L1066.4 234.8 L1067.4 234.7 L1068.4 234.6 L1069.4 234.5 L1070.4 234.3 L1071.4 234.2 L1072.4 234.1 L1073.4 234.0 L1074.4 233.9 L1075.4 233.7 L1076.4 233.6 L1077.4 233.5 L1078.4 233.4 L1079.4 233.3 L1080.4 233.1 L1081.4 233.0 L1082.4 232.9 L1083.4 232.8 L1084.4 232.7 L1085.4 232.5 L1086.4 232.4 L1087.4 232.3 L1088.4 232.2 L1089.4 232.1 L1090.4 231.9 L1091.4 231.8 L1092.4 231.7 L1093.4 231.6 L1094.4 231.4 L1095.4 231.3 L1096.4 231.2 L1097.4 231.1 L1098.4 231.0 L1099.4 230.8 L1100.4 230.7 L1101.4 230.6 L1102.4 230.5 L1103.4 230.3 L1104.4 230.2 L1105.4 230.1 L1106.4 230.0 L1107.4 229.9 L1108.4 229.7 L1109.4 229.6 L1110.4 229.5 L1111.4 229.4 L1112.4 229.3 L1113.4 229.1 L1114.4 229.0 L1115.4 228.9 L1116.4 228.8 L1117.4 228.7 L1118.4 228.5 L1119.4 228.4 L1120.4 228.3 L1121.4 228.2 L1122.4 228.1 L1123.4 227.9 L1124.4 227.8 L1125.4 227.7 L1126.4 227.6 L1127.4 227.5 L1128.4 227.4 L1129.4 227.2 L1130.4 227.1 L1131.4 227.0 L1132.4 226.9 L1133.4 226.8 L1134.4 226.7 L1135.4 226.5 L1136.4 226.4 L1137.4 226.3 L1138.4 226.2 L1139.4 226.1 L1140.4 226.0 L1141.4 225.9 L1142.4 225.7 L1143.4 225.6 L1144.4 225.5 L1145.4 225.4 L1146.4 225.3 L1147.4 225.2 L1148.4 225.1 L1149.4 225.0 L1150.4 224.9 L1151.4 224.7 L1152.4 224.6 L1153.4 224.5 L1154.4 224.4 L1155.4 224.3 L1156.4 224.2 L1157.4 224.1 L1158.4 224.0 L1159.4 223.9 L1160.4 223.8 L1161.4 223.7 L1162.4 223.6 L1163.4 223.5 L1164.4 223.4 L1165.4 223.3 L1166.4 223.2 L1167.4 223.1 L1168.4 223.0 L1169.4 222.9 L1170.4 222.8 L1171.4 222.7 L1172.4 222.6 L1173.4 222.5 L1174.4 222.4 L1175.4 222.3 L1176.4 222.2 L1177.4 222.1 L1178.4 222.0 L1179.4 221.9 L1180.4 221.9 L1181.4 221.8 L1182.4 221.7 L1183.4 221.6 L1184.4 221.5 L1185.4 221.4 L1186.4 221.3 L1187.4 221.2 L1188.4 221.2 L1189.4 221.1 L1190.4 221.0 L1191.4 220.9 L1192.4 220.8 L1193.4 220.7 L1194.4 220.7 L1195.4 220.6 L1196.4 220.5 L1197.4 220.4 L1198.4 220.4 L1199.4 220.3 L1200.4 220.2 L1201.4 220.1 L1202.4 220.1 L1203.4 220.0 L1204.4 219.9 L1205.4 219.8 L1206.4 219.8 L1207.4 219.7 L1208.4 219.6 L1209.4 219.6 L1210.4 219.5 L1211.4 219.5 L1212.4 219.4 L1213.4 219.3 L1214.4 219.3 L1215.4 219.2 L1216.4 219.2 L1217.4 219.1 L1218.4 219.0 L1219.4 219.0 L1220.4 218.9 L1221.4 218.9 L1222.4 218.8 L1223.4 218.8 L1224.4 218.7 L1225.4 218.7 L1226.4 218.6 L1227.4 218.6 L1228.4 218.5 L1229.4 218.5 L1230.4 218.4 L1231.4 218.4 L1232.4 218.4 L1233.4 218.3 L1234.4 218.3 L1235.4 218.3 L1236.4 218.2 L1237.4 218.2 L1238.4 218.2 L1239.4 218.1 L1240.4 218.1 L1241.4 218.1 L1242.4 218.0 L1243.4 218.0 L1244.4 218.0 L1245.4 218.0 L1246.4 217.9 L1247.4 217.9 L1248.4 217.9 L1249.4 217.9 L1250.4 217.9 L1251.4 217.8 L1252.4 217.8 L1253.4 217.8 L1254.4 217.8 L1255.4 217.8 L1256.4 217.8 L1257.4 217.8 L1258.4 217.8 L1259.4 217.8" fill="none" stroke="#1010d8" stroke-width="3.00" stroke-linejoin="round"/>
<path d="M787.4 342.6 L788.4 342.6 L789.4 342.5 L790.4 342.4 L791.4 342.4 L792.4 342.3 L793.4 342.3 L794.4 342.2 L795.4 342.2 L796.4 342.1 L797.4 342.1 L798.4 342.1 L799.4 342.1 L800.4 342.0 L801.4 342.0 L802.4 342.0 L803.4 342.0 L804.4 342.0 L805.4 342.0 L806.4 342.0 L807.4 342.0 L808.4 342.0 L809.4 342.0 L810.4 342.0 L811.4 342.0 L812.4 342.0 L813.4 342.0 L814.4 342.1 L815.4 342.1 L816.4 342.1 L817.4 342.0 L818.4 342.0 L819.4 342.0 L820.4 342.0 L821.4 342.0 L822.4 342.0 L823.4 342.0 L824.4 341.9 L825.4 341.9 L826.4 341.9 L827.4 341.8 L828.4 341.8 L829.4 341.7 L830.4 341.6 L831.4 341.6 L832.4 341.5 L833.4 341.4 L834.4 341.3 L835.4 341.2 L836.4 341.1 L837.4 340.9 L838.4 340.8 L839.4 340.7 L840.4 340.5 L841.4 340.3 L842.4 340.2 L843.4 340.0 L844.4 339.8 L845.4 339.5 L846.4 339.3 L847.4 339.1 L848.4 338.8 L849.4 338.5 L850.4 338.3 L851.4 338.0 L852.4 337.6 L853.4 337.3 L854.4 337.0 L855.4 336.6 L856.4 336.2 L857.4 335.8 L858.4 335.4 L859.4 335.0 L860.4 334.5 L861.4 334.0 L862.4 333.6 L863.4 333.0 L864.4 332.5 L865.4 332.0 L866.4 331.4 L867.4 330.8 L868.4 330.2 L869.4 329.6 L870.4 328.9 L871.4 328.2 L872.4 327.5 L873.4 326.8 L874.4 326.1 L875.4 325.3 L876.4 324.5 L877.4 323.7 L878.4 322.8 L879.4 322.0 L880.4 321.1 L881.4 320.2 L882.4 319.2 L883.4 318.2 L884.4 317.2 L885.4 316.2 L886.4 315.1 L887.4 314.1 L888.4 312.9 L889.4 311.8 L890.4 310.6 L891.4 309.4 L892.4 308.2 L893.4 306.9 L894.4 305.6 L895.4 304.3 L896.4 303.0 L897.4 301.6 L898.4 300.2 L899.4 298.8 L900.4 297.3 L901.4 295.9 L902.4 294.4 L903.4 292.9 L904.4 291.3 L905.4 289.8 L906.4 288.2 L907.4 286.6 L908.4 285.0 L909.4 283.4 L910.4 281.8 L911.4 280.1 L912.4 278.5 L913.4 276.8 L914.4 275.1 L915.4 273.4 L916.4 271.7 L917.4 270.0 L918.4 268.3 L919.4 266.6 L920.4 264.9 L921.4 263.2 L922.4 261.4 L923.4 259.7 L924.4 258.0 L925.4 256.2 L926.4 254.5 L927.4 252.8 L928.4 251.1 L929.4 249.3 L930.4 247.6 L931.4 245.9 L932.4 244.2 L933.4 242.5 L934.4 240.8 L935.4 239.1 L936.4 237.4 L937.4 235.8 L938.4 234.1 L939.4 232.4 L940.4 230.8 L941.4 229.2 L942.4 227.5 L943.4 225.9 L944.4 224.3 L945.4 222.7 L946.4 221.1 L947.4 219.6 L948.4 218.0 L949.4 216.5 L950.4 215.0 L951.4 213.5 L952.4 212.0 L953.4 210.5 L954.4 209.1 L955.4 207.6 L956.4 206.2 L957.4 204.8 L958.4 203.5 L959.4 202.1 L960.4 200.8 L961.4 199.4 L962.4 198.1 L963.4 196.8 L964.4 195.6 L965.4 194.3 L966.4 193.1 L967.4 191.9 L968.4 190.7 L969.4 189.5 L970.4 188.3 L971.4 187.2 L972.4 186.1 L973.4 185.0 L974.4 183.9 L975.4 182.8 L976.4 181.7 L977.4 180.7 L978.4 179.6 L979.4 178.6 L980.4 177.6 L981.4 176.6 L982.4 175.6 L983.4 174.7 L984.4 173.7 L985.4 172.8 L986.4 171.9 L987.4 171.0 L988.4 170.1 L989.4 169.2 L990.4 168.3 L991.4 167.5 L992.4 166.7 L993.4 165.8 L994.4 165.0 L995.4 164.2 L996.4 163.4 L997.4 162.7 L998.4 161.9 L999.4 161.1 L1000.4 160.4 L1001.4 159.7 L1002.4 159.0 L1003.4 158.3 L1004.4 157.6 L1005.4 156.9 L1006.4 156.2 L1007.4 155.5 L1008.4 154.9 L1009.4 154.2 L1010.4 153.6 L1011.4 153.0 L1012.4 152.4 L1013.4 151.8 L1014.4 151.2 L1015.4 150.6 L1016.4 150.0 L1017.4 149.4 L1018.4 148.9 L1019.4 148.3 L1020.4 147.8 L1021.4 147.3 L1022.4 146.7 L1023.4 146.2 L1024.4 145.7 L1025.4 145.2 L1026.4 144.7 L1027.4 144.2 L1028.4 143.7 L1029.4 143.2 L1030.4 142.8 L1031.4 142.3 L1032.4 141.9 L1033.4 141.4 L1034.4 141.0 L1035.4 140.5 L1036.4 140.1 L1037.4 139.7 L1038.4 139.2 L1039.4 138.8 L1040.4 138.4 L1041.4 138.0 L1042.4 137.6 L1043.4 137.2 L1044.4 136.8 L1045.4 136.4 L1046.4 136.0 L1047.4 135.6 L1048.4 135.2 L1049.4 134.9 L1050.4 134.5 L1051.4 134.1 L1052.4 133.8 L1053.4 133.4 L1054.4 133.0 L1055.4 132.7 L1056.4 132.3 L1057.4 132.0 L1058.4 131.6 L1059.4 131.3 L1060.4 130.9 L1061.4 130.6 L1062.4 130.2 L1063.4 129.9 L1064.4 129.6 L1065.4 129.2 L1066.4 128.9 L1067.4 128.6 L1068.4 128.3 L1069.4 127.9 L1070.4 127.6 L1071.4 127.3 L1072.4 127.0 L1073.4 126.7 L1074.4 126.4 L1075.4 126.1 L1076.4 125.8 L1077.4 125.5 L1078.4 125.2 L1079.4 124.9 L1080.4 124.6 L1081.4 124.3 L1082.4 124.0 L1083.4 123.8 L1084.4 123.5 L1085.4 123.2 L1086.4 122.9 L1087.4 122.7 L1088.4 122.4 L1089.4 122.1 L1090.4 121.9 L1091.4 121.6 L1092.4 121.4 L1093.4 121.1 L1094.4 120.8 L1095.4 120.6 L1096.4 120.4 L1097.4 120.1 L1098.4 119.9 L1099.4 119.6 L1100.4 119.4 L1101.4 119.1 L1102.4 118.9 L1103.4 118.7 L1104.4 118.5 L1105.4 118.2 L1106.4 118.0 L1107.4 117.8 L1108.4 117.6 L1109.4 117.3 L1110.4 117.1 L1111.4 116.9 L1112.4 116.7 L1113.4 116.5 L1114.4 116.3 L1115.4 116.1 L1116.4 115.9 L1117.4 115.7 L1118.4 115.5 L1119.4 115.3 L1120.4 115.1 L1121.4 114.9 L1122.4 114.7 L1123.4 114.5 L1124.4 114.3 L1125.4 114.2 L1126.4 114.0 L1127.4 113.8 L1128.4 113.6 L1129.4 113.4 L1130.4 113.3 L1131.4 113.1 L1132.4 112.9 L1133.4 112.8 L1134.4 112.6 L1135.4 112.4 L1136.4 112.3 L1137.4 112.1 L1138.4 111.9 L1139.4 111.8 L1140.4 111.6 L1141.4 111.5 L1142.4 111.3 L1143.4 111.2 L1144.4 111.0 L1145.4 110.9 L1146.4 110.7 L1147.4 110.6 L1148.4 110.5 L1149.4 110.3 L1150.4 110.2 L1151.4 110.0 L1152.4 109.9 L1153.4 109.8 L1154.4 109.6 L1155.4 109.5 L1156.4 109.4 L1157.4 109.3 L1158.4 109.1 L1159.4 109.0 L1160.4 108.9 L1161.4 108.8 L1162.4 108.6 L1163.4 108.5 L1164.4 108.4 L1165.4 108.3 L1166.4 108.2 L1167.4 108.1 L1168.4 108.0 L1169.4 107.8 L1170.4 107.7 L1171.4 107.6 L1172.4 107.5 L1173.4 107.4 L1174.4 107.3 L1175.4 107.2 L1176.4 107.1 L1177.4 107.0 L1178.4 106.9 L1179.4 106.8 L1180.4 106.7 L1181.4 106.6 L1182.4 106.5 L1183.4 106.4 L1184.4 106.3 L1185.4 106.3 L1186.4 106.2 L1187.4 106.1 L1188.4 106.0 L1189.4 105.9 L1190.4 105.8 L1191.4 105.7 L1192.4 105.7 L1193.4 105.6 L1194.4 105.5 L1195.4 105.4 L1196.4 105.3 L1197.4 105.3 L1198.4 105.2 L1199.4 105.1 L1200.4 105.0 L1201.4 105.0 L1202.4 104.9 L1203.4 104.8 L1204.4 104.7 L1205.4 104.7 L1206.4 104.6 L1207.4 104.5 L1208.4 104.5 L1209.4 104.4 L1210.4 104.3 L1211.4 104.3 L1212.4 104.2 L1213.4 104.1 L1214.4 104.1 L1215.4 104.0 L1216.4 103.9 L1217.4 103.9 L1218.4 103.8 L1219.4 103.8 L1220.4 103.7 L1221.4 103.6 L1222.4 103.6 L1223.4 103.5 L1224.4 103.5 L1225.4 103.4 L1226.4 103.4 L1227.4 103.3 L1228.4 103.2 L1229.4 103.2 L1230.4 103.1 L1231.4 103.1 L1232.4 103.0 L1233.4 103.0 L1234.4 102.9 L1235.4 102.9 L1236.4 102.8 L1237.4 102.8 L1238.4 102.7 L1239.4 102.7 L1240.4 102.6 L1241.4 102.6 L1242.4 102.5 L1243.4 102.5 L1244.4 102.4 L1245.4 102.4 L1246.4 102.3 L1247.4 102.3 L1248.4 102.2 L1249.4 102.2 L1250.4 102.1 L1251.4 102.1 L1252.4 102.0 L1253.4 102.0 L1254.4 101.9 L1255.4 101.9 L1256.4 101.8 L1257.4 101.8 L1258.4 101.8 L1259.4 101.7" fill="none" stroke="#e0141c" stroke-width="3.00" stroke-linejoin="round"/>
<path d="M787.4 338.6 L788.4 338.7 L789.4 338.7 L790.4 338.8 L791.4 338.9 L792.4 338.9 L793.4 339.0 L794.4 339.1 L795.4 339.1 L796.4 339.2 L797.4 339.2 L798.4 339.3 L799.4 339.3 L800.4 339.4 L801.4 339.4 L802.4 339.4 L803.4 339.4 L804.4 339.5 L805.4 339.5 L806.4 339.5 L807.4 339.5 L808.4 339.5 L809.4 339.5 L810.4 339.5 L811.4 339.5 L812.4 339.5 L813.4 339.5 L814.4 339.4 L815.4 339.4 L816.4 339.4 L817.4 339.4 L818.4 339.3 L819.4 339.3 L820.4 339.2 L821.4 339.2 L822.4 339.1 L823.4 339.1 L824.4 339.0 L825.4 338.9 L826.4 338.9 L827.4 338.8 L828.4 338.7 L829.4 338.6 L830.4 338.6 L831.4 338.5 L832.4 338.4 L833.4 338.3 L834.4 338.2 L835.4 338.1 L836.4 338.0 L837.4 337.9 L838.4 337.7 L839.4 337.6 L840.4 337.5 L841.4 337.4 L842.4 337.2 L843.4 337.1 L844.4 337.0 L845.4 336.8 L846.4 336.7 L847.4 336.5 L848.4 336.4 L849.4 336.2 L850.4 336.1 L851.4 335.9 L852.4 335.7 L853.4 335.6 L854.4 335.4 L855.4 335.2 L856.4 335.0 L857.4 334.9 L858.4 334.7 L859.4 334.5 L860.4 334.3 L861.4 334.1 L862.4 333.9 L863.4 333.7 L864.4 333.5 L865.4 333.3 L866.4 333.1 L867.4 332.8 L868.4 332.6 L869.4 332.4 L870.4 332.2 L871.4 331.9 L872.4 331.7 L873.4 331.5 L874.4 331.2 L875.4 331.0 L876.4 330.8 L877.4 330.5 L878.4 330.3 L879.4 330.0 L880.4 329.7 L881.4 329.5 L882.4 329.2 L883.4 328.9 L884.4 328.7 L885.4 328.4 L886.4 328.1 L887.4 327.8 L888.4 327.6 L889.4 327.3 L890.4 327.0 L891.4 326.7 L892.4 326.4 L893.4 326.1 L894.4 325.8 L895.4 325.5 L896.4 325.2 L897.4 324.9 L898.4 324.6 L899.4 324.3 L900.4 324.0 L901.4 323.6 L902.4 323.3 L903.4 323.0 L904.4 322.7 L905.4 322.3 L906.4 322.0 L907.4 321.7 L908.4 321.3 L909.4 321.0 L910.4 320.7 L911.4 320.3 L912.4 320.0 L913.4 319.6 L914.4 319.3 L915.4 318.9 L916.4 318.6 L917.4 318.2 L918.4 317.9 L919.4 317.5 L920.4 317.2 L921.4 316.8 L922.4 316.4 L923.4 316.1 L924.4 315.7 L925.4 315.4 L926.4 315.0 L927.4 314.6 L928.4 314.3 L929.4 313.9 L930.4 313.5 L931.4 313.2 L932.4 312.8 L933.4 312.5 L934.4 312.1 L935.4 311.7 L936.4 311.4 L937.4 311.0 L938.4 310.6 L939.4 310.3 L940.4 309.9 L941.4 309.5 L942.4 309.2 L943.4 308.8 L944.4 308.5 L945.4 308.1 L946.4 307.7 L947.4 307.4 L948.4 307.0 L949.4 306.7 L950.4 306.3 L951.4 305.9 L952.4 305.6 L953.4 305.2 L954.4 304.9 L955.4 304.5 L956.4 304.2 L957.4 303.9 L958.4 303.5 L959.4 303.2 L960.4 302.8 L961.4 302.5 L962.4 302.2 L963.4 301.8 L964.4 301.5 L965.4 301.2 L966.4 300.8 L967.4 300.5 L968.4 300.2 L969.4 299.9 L970.4 299.5 L971.4 299.2 L972.4 298.9 L973.4 298.6 L974.4 298.3 L975.4 298.0 L976.4 297.7 L977.4 297.4 L978.4 297.1 L979.4 296.7 L980.4 296.4 L981.4 296.1 L982.4 295.9 L983.4 295.6 L984.4 295.3 L985.4 295.0 L986.4 294.7 L987.4 294.4 L988.4 294.1 L989.4 293.8 L990.4 293.5 L991.4 293.3 L992.4 293.0 L993.4 292.7 L994.4 292.4 L995.4 292.2 L996.4 291.9 L997.4 291.6 L998.4 291.4 L999.4 291.1 L1000.4 290.8 L1001.4 290.6 L1002.4 290.3 L1003.4 290.0 L1004.4 289.8 L1005.4 289.5 L1006.4 289.3 L1007.4 289.0 L1008.4 288.8 L1009.4 288.5 L1010.4 288.3 L1011.4 288.0 L1012.4 287.8 L1013.4 287.6 L1014.4 287.3 L1015.4 287.1 L1016.4 286.8 L1017.4 286.6 L1018.4 286.4 L1019.4 286.2 L1020.4 285.9 L1021.4 285.7 L1022.4 285.5 L1023.4 285.2 L1024.4 285.0 L1025.4 284.8 L1026.4 284.6 L1027.4 284.4 L1028.4 284.2 L1029.4 283.9 L1030.4 283.7 L1031.4 283.5 L1032.4 283.3 L1033.4 283.1 L1034.4 282.9 L1035.4 282.7 L1036.4 282.5 L1037.4 282.3 L1038.4 282.1 L1039.4 281.9 L1040.4 281.7 L1041.4 281.5 L1042.4 281.3 L1043.4 281.1 L1044.4 280.9 L1045.4 280.7 L1046.4 280.5 L1047.4 280.4 L1048.4 280.2 L1049.4 280.0 L1050.4 279.8 L1051.4 279.6 L1052.4 279.5 L1053.4 279.3 L1054.4 279.1 L1055.4 278.9 L1056.4 278.8 L1057.4 278.6 L1058.4 278.4 L1059.4 278.3 L1060.4 278.1 L1061.4 277.9 L1062.4 277.8 L1063.4 277.6 L1064.4 277.4 L1065.4 277.3 L1066.4 277.1 L1067.4 277.0 L1068.4 276.8 L1069.4 276.7 L1070.4 276.5 L1071.4 276.4 L1072.4 276.2 L1073.4 276.1 L1074.4 275.9 L1075.4 275.8 L1076.4 275.6 L1077.4 275.5 L1078.4 275.4 L1079.4 275.2 L1080.4 275.1 L1081.4 274.9 L1082.4 274.8 L1083.4 274.7 L1084.4 274.5 L1085.4 274.4 L1086.4 274.3 L1087.4 274.2 L1088.4 274.0 L1089.4 273.9 L1090.4 273.8 L1091.4 273.7 L1092.4 273.5 L1093.4 273.4 L1094.4 273.3 L1095.4 273.2 L1096.4 273.1 L1097.4 273.0 L1098.4 272.8 L1099.4 272.7 L1100.4 272.6 L1101.4 272.5 L1102.4 272.4 L1103.4 272.3 L1104.4 272.2 L1105.4 272.1 L1106.4 272.0 L1107.4 271.9 L1108.4 271.8 L1109.4 271.7 L1110.4 271.6 L1111.4 271.5 L1112.4 271.4 L1113.4 271.3 L1114.4 271.2 L1115.4 271.1 L1116.4 271.0 L1117.4 270.9 L1118.4 270.8 L1119.4 270.7 L1120.4 270.7 L1121.4 270.6 L1122.4 270.5 L1123.4 270.4 L1124.4 270.3 L1125.4 270.2 L1126.4 270.2 L1127.4 270.1 L1128.4 270.0 L1129.4 269.9 L1130.4 269.9 L1131.4 269.8 L1132.4 269.7 L1133.4 269.6 L1134.4 269.6 L1135.4 269.5 L1136.4 269.4 L1137.4 269.4 L1138.4 269.3 L1139.4 269.2 L1140.4 269.2 L1141.4 269.1 L1142.4 269.0 L1143.4 269.0 L1144.4 268.9 L1145.4 268.8 L1146.4 268.8 L1147.4 268.7 L1148.4 268.7 L1149.4 268.6 L1150.4 268.6 L1151.4 268.5 L1152.4 268.5 L1153.4 268.4 L1154.4 268.4 L1155.4 268.3 L1156.4 268.3 L1157.4 268.2 L1158.4 268.2 L1159.4 268.1 L1160.4 268.1 L1161.4 268.0 L1162.4 268.0 L1163.4 267.9 L1164.4 267.9 L1165.4 267.9 L1166.4 267.8 L1167.4 267.8 L1168.4 267.8 L1169.4 267.7 L1170.4 267.7 L1171.4 267.6 L1172.4 267.6 L1173.4 267.6 L1174.4 267.5 L1175.4 267.5 L1176.4 267.5 L1177.4 267.5 L1178.4 267.4 L1179.4 267.4 L1180.4 267.4 L1181.4 267.3 L1182.4 267.3 L1183.4 267.3 L1184.4 267.3 L1185.4 267.3 L1186.4 267.2 L1187.4 267.2 L1188.4 267.2 L1189.4 267.2 L1190.4 267.1 L1191.4 267.1 L1192.4 267.1 L1193.4 267.1 L1194.4 267.1 L1195.4 267.1 L1196.4 267.1 L1197.4 267.0 L1198.4 267.0 L1199.4 267.0 L1200.4 267.0 L1201.4 267.0 L1202.4 267.0 L1203.4 267.0 L1204.4 267.0 L1205.4 267.0 L1206.4 267.0 L1207.4 266.9 L1208.4 266.9 L1209.4 266.9 L1210.4 266.9 L1211.4 266.9 L1212.4 266.9 L1213.4 266.9 L1214.4 266.9 L1215.4 266.9 L1216.4 266.9 L1217.4 266.9 L1218.4 266.9 L1219.4 266.9 L1220.4 266.9 L1221.4 266.9 L1222.4 266.9 L1223.4 266.9 L1224.4 266.9 L1225.4 266.9 L1226.4 267.0 L1227.4 267.0 L1228.4 267.0 L1229.4 267.0 L1230.4 267.0 L1231.4 267.0 L1232.4 267.0 L1233.4 267.0 L1234.4 267.0 L1235.4 267.0 L1236.4 267.0 L1237.4 267.1 L1238.4 267.1 L1239.4 267.1 L1240.4 267.1 L1241.4 267.1 L1242.4 267.1 L1243.4 267.1 L1244.4 267.2 L1245.4 267.2 L1246.4 267.2 L1247.4 267.2 L1248.4 267.2 L1249.4 267.2 L1250.4 267.3 L1251.4 267.3 L1252.4 267.3 L1253.4 267.3 L1254.4 267.3 L1255.4 267.4 L1256.4 267.4 L1257.4 267.4 L1258.4 267.4 L1259.4 267.4" fill="none" stroke="#20c41a" stroke-width="3.00" stroke-linejoin="round"/>
<path d="M788.6 384.9 L789.6 385.2 L790.6 385.3 L791.6 385.5 L792.6 385.1 L793.6 385.5 L794.6 383.6 L795.6 384.5 L796.6 385.4 L797.6 384.8 L798.6 385.3 L799.6 383.7 L800.6 384.4 L801.6 383.9 L802.6 384.5 L803.6 384.5 L804.6 383.4 L805.6 383.8 L806.6 383.8 L807.6 385.1 L808.6 384.8 L809.6 383.5 L810.6 384.8 L811.6 383.4 L812.6 384.3 L813.6 383.3 L814.6 383.0 L815.6 384.7 L816.6 383.4 L817.6 383.4 L818.6 384.9 L819.6 384.6 L820.6 383.4 L821.6 384.7 L822.6 383.8 L823.6 384.1 L824.6 383.1 L825.6 384.5 L826.6 384.0 L827.6 384.5 L828.6 384.3 L829.6 383.1 L830.6 383.2 L831.6 382.7 L832.6 382.6 L833.6 382.4 L834.6 382.8 L835.6 383.4 L836.7 382.1 L837.7 383.4 L838.7 382.6 L839.7 382.5 L840.7 383.4 L841.7 382.7 L842.7 382.3 L843.7 382.6 L844.7 383.0 L845.7 381.6 L846.7 383.4 L847.7 381.4 L848.7 382.8 L849.7 383.0 L850.7 381.3 L851.7 382.8 L852.7 382.0 L853.7 382.4 L854.7 381.3 L855.7 381.4 L856.7 381.7 L857.7 383.4 L858.7 382.0 L859.7 383.2 L860.7 383.7 L861.7 383.9 L862.7 382.9 L863.7 383.1 L864.7 383.7 L865.7 384.3 L866.7 383.2 L867.7 384.6 L868.7 384.9 L869.7 385.2 L870.7 383.6 L871.7 385.6 L872.7 384.0 L873.7 384.6 L874.7 385.2 L875.7 385.9 L876.7 384.9 L877.7 386.1 L878.7 385.5 L879.7 385.1 L880.7 385.2 L881.7 385.0 L882.7 384.9 L883.7 385.2 L884.7 386.3 L885.7 387.0 L886.7 385.5 L887.7 385.4 L888.7 387.4 L889.7 386.6 L890.7 386.5 L891.7 386.3 L892.7 387.1 L893.7 387.7 L894.7 387.1 L895.7 387.2 L896.7 386.7 L897.7 388.5 L898.7 387.0 L899.7 388.1 L900.7 388.9 L901.7 387.7 L902.7 389.1 L903.7 389.8 L904.7 389.3 L905.7 389.9 L906.7 388.7 L907.7 389.6 L908.7 389.3 L909.7 390.9 L910.7 390.1 L911.7 390.7 L912.7 392.0 L913.7 392.0 L914.7 392.6 L915.7 391.9 L916.7 392.3 L917.7 393.1 L918.7 393.0 L919.7 393.0 L920.7 393.6 L921.7 393.5 L922.7 394.5 L923.7 396.2 L924.7 396.6 L925.7 396.4 L926.7 396.7 L927.7 396.9 L928.7 397.0 L929.8 398.0 L930.8 399.7 L931.8 400.5 L932.8 400.2 L933.8 401.8 L934.8 402.6 L935.8 403.3 L936.8 404.1 L937.8 405.1 L938.8 405.2 L939.8 406.8 L940.8 406.9 L941.8 408.3 L942.8 409.8 L943.8 410.6 L944.8 410.8 L945.8 413.2 L946.8 413.7 L947.8 414.8 L948.8 414.9 L949.8 417.4 L950.8 418.4 L951.8 421.0 L952.8 422.3 L953.8 424.8 L954.8 426.1 L955.8 427.9 L956.8 428.2 L957.8 429.8 L958.8 430.9 L959.8 432.0 L960.8 431.9 L961.8 433.9 L962.8 435.2 L963.8 436.2 L964.8 438.4 L965.8 440.1 L966.8 441.1 L967.8 443.0 L968.8 444.1 L969.8 447.3 L970.8 449.3 L971.8 450.2 L972.8 452.5 L973.8 454.5 L974.8 456.5 L975.8 457.4 L976.8 460.7 L977.8 462.5 L978.8 464.9 L979.8 466.5 L980.8 469.0 L981.8 471.4 L982.8 473.1 L983.8 475.1 L984.8 475.5 L985.8 477.4 L986.8 479.4 L987.8 481.2 L988.8 481.8 L989.8 484.3 L990.8 486.0 L991.8 486.9 L992.8 489.9 L993.8 491.6 L994.8 493.3 L995.8 495.2 L996.8 497.2 L997.8 498.4 L998.8 499.7 L999.8 500.7 L1000.8 502.9 L1001.8 504.0 L1002.8 505.9 L1003.8 507.3 L1004.8 508.1 L1005.8 511.0 L1006.8 510.9 L1007.8 513.3 L1008.8 514.7 L1009.8 516.4 L1010.8 517.2 L1011.8 519.9 L1012.8 520.0 L1013.8 520.3 L1014.8 522.3 L1015.8 522.2 L1016.8 524.0 L1017.8 524.8 L1018.8 526.7 L1019.8 529.1 L1020.8 530.4 L1021.8 530.7 L1022.8 532.1 L1023.8 531.9 L1024.9 531.1 L1025.9 530.3 L1026.9 531.0 L1027.9 531.1 L1028.9 532.2 L1029.9 532.7 L1030.9 532.6 L1031.9 532.6 L1032.9 534.1 L1033.9 532.7 L1034.9 533.3 L1035.9 534.5 L1036.9 534.9 L1037.9 534.1 L1038.9 535.3 L1039.9 536.0 L1040.9 535.1 L1041.9 535.3 L1042.9 534.9 L1043.9 535.0 L1044.9 536.3 L1045.9 535.0 L1046.9 536.1 L1047.9 535.8 L1048.9 535.0 L1049.9 534.3 L1050.9 535.7 L1051.9 535.0 L1052.9 535.2 L1053.9 535.6 L1054.9 537.6 L1055.9 537.3 L1056.9 537.3 L1057.9 538.0 L1058.9 537.4 L1059.9 538.4 L1060.9 538.0 L1061.9 537.7 L1062.9 538.6 L1063.9 538.6 L1064.9 536.9 L1065.9 537.9 L1066.9 537.4 L1067.9 538.7 L1068.9 538.5 L1069.9 537.4 L1070.9 537.6 L1071.9 537.4 L1072.9 539.2 L1073.9 537.9 L1074.9 538.7 L1075.9 538.5 L1076.9 539.0 L1077.9 539.0 L1078.9 539.3 L1079.9 538.1 L1080.9 539.4 L1081.9 538.5 L1082.9 538.9 L1083.9 538.5 L1084.9 538.4 L1085.9 538.8 L1086.9 538.6 L1087.9 538.3 L1088.9 539.1 L1089.9 538.7 L1090.9 537.5 L1091.9 537.9 L1092.9 538.2 L1093.9 539.1 L1094.9 539.0 L1095.9 538.2 L1096.9 537.1 L1097.9 538.6 L1098.9 537.9 L1099.9 538.1 L1100.9 538.4 L1101.9 538.2 L1102.9 537.9 L1103.9 538.8 L1104.9 537.7 L1105.9 537.8 L1106.9 538.8 L1107.9 537.5 L1108.9 537.8 L1109.9 539.0 L1110.9 537.6 L1111.9 539.3 L1112.9 539.1 L1113.9 538.8 L1114.9 538.7 L1115.9 539.8 L1116.9 540.3 L1117.9 539.0 L1119.0 539.9 L1120.0 540.2 L1121.0 540.4 L1122.0 540.3 L1123.0 540.2 L1124.0 541.3 L1125.0 542.0 L1126.0 540.8 L1127.0 541.4 L1128.0 542.9 L1129.0 543.1 L1130.0 543.1 L1131.0 542.2 L1132.0 543.8 L1133.0 544.6 L1134.0 545.0 L1135.0 544.7 L1136.0 543.6 L1137.0 545.5 L1138.0 544.5 L1139.0 545.7 L1140.0 546.6 L1141.0 546.4 L1142.0 545.6 L1143.0 546.2 L1144.0 547.8 L1145.0 546.7 L1146.0 547.9 L1147.0 547.9 L1148.0 547.8 L1149.0 549.1 L1150.0 548.4 L1151.0 548.9 L1152.0 549.8 L1153.0 549.6 L1154.0 550.0 L1155.0 551.5 L1156.0 552.2 L1157.0 552.9 L1158.0 551.8 L1159.0 552.8 L1160.0 552.9 L1161.0 553.9 L1162.0 554.0 L1163.0 555.3 L1164.0 554.5 L1165.0 554.2 L1166.0 555.8 L1167.0 555.0 L1168.0 556.3 L1169.0 556.4 L1170.0 557.5 L1171.0 557.1 L1172.0 557.5 L1173.0 557.1 L1174.0 558.0 L1175.0 557.7 L1176.0 559.0 L1177.0 558.8 L1178.0 558.3 L1179.0 558.8 L1180.0 559.4 L1181.0 560.4 L1182.0 559.5 L1183.0 560.9 L1184.0 561.1 L1185.0 560.2 L1186.0 561.7 L1187.0 560.8 L1188.0 561.2 L1189.0 562.4 L1190.0 562.0 L1191.0 563.6 L1192.0 563.1 L1193.0 563.1 L1194.0 564.3 L1195.0 563.1 L1196.0 564.8 L1197.0 563.8 L1198.0 564.3 L1199.0 566.2 L1200.0 566.0 L1201.0 565.4 L1202.0 565.5 L1203.0 567.6 L1204.0 567.3 L1205.0 567.9 L1206.0 566.9 L1207.0 568.2 L1208.0 568.0 L1209.0 568.0 L1210.0 568.6 L1211.0 569.5 L1212.0 569.3 L1213.1 569.7 L1214.1 569.6 L1215.1 571.3 L1216.1 571.3 L1217.1 571.9 L1218.1 571.6 L1219.1 572.8 L1220.1 572.5 L1221.1 573.0 L1222.1 573.3 L1223.1 574.1 L1224.1 573.8 L1225.1 573.6 L1226.1 573.8 L1227.1 574.6 L1228.1 574.7 L1229.1 576.8 L1230.1 576.4 L1231.1 577.4 L1232.1 576.3 L1233.1 577.7 L1234.1 579.0 L1235.1 578.9 L1236.1 579.0 L1237.1 579.6 L1238.1 579.4 L1239.1 580.0 L1240.1 580.5 L1241.1 581.4 L1242.1 581.9 L1243.1 583.5 L1244.1 582.5 L1245.1 583.3 L1246.1 583.9 L1247.1 584.2 L1248.1 585.0 L1249.1 585.4 L1250.1 586.5 L1251.1 586.1 L1252.1 588.5 L1253.1 588.0 L1254.1 589.7 L1255.1 589.8 L1256.1 590.3 L1257.1 590.4 L1258.1 591.9 L1259.1 590.6" fill="none" stroke="#1010d8" stroke-width="3.00" stroke-linejoin="round"/>
<path d="M788.6 393.4 L789.6 393.1 L790.6 393.3 L791.6 393.0 L792.6 392.8 L793.6 393.0 L794.6 393.3 L795.6 393.1 L796.6 392.9 L797.6 392.2 L798.6 392.4 L799.6 392.0 L800.6 391.7 L801.6 391.5 L802.6 391.5 L803.6 392.1 L804.6 391.9 L805.6 391.7 L806.6 391.6 L807.6 390.9 L808.6 390.9 L809.6 391.1 L810.6 391.1 L811.6 391.1 L812.6 391.0 L813.6 390.1 L814.6 390.5 L815.6 390.5 L816.6 390.3 L817.6 389.9 L818.6 390.1 L819.6 389.6 L820.6 390.4 L821.6 390.3 L822.6 389.9 L823.6 389.6 L824.6 390.2 L825.6 389.8 L826.6 390.1 L827.6 390.0 L828.6 389.6 L829.6 389.5 L830.6 389.7 L831.6 389.5 L832.6 389.2 L833.6 389.4 L834.6 389.9 L835.6 389.1 L836.7 389.1 L837.7 389.6 L838.7 389.3 L839.7 389.5 L840.7 389.5 L841.7 389.3 L842.7 390.0 L843.7 389.2 L844.7 389.4 L845.7 389.2 L846.7 389.6 L847.7 389.2 L848.7 389.3 L849.7 389.7 L850.7 389.3 L851.7 389.5 L852.7 389.9 L853.7 389.0 L854.7 389.0 L855.7 389.2 L856.7 389.7 L857.7 389.5 L858.7 389.2 L859.7 389.2 L860.7 389.1 L861.7 389.4 L862.7 388.9 L863.7 389.6 L864.7 389.8 L865.7 389.8 L866.7 389.6 L867.7 389.8 L868.7 388.8 L869.7 389.0 L870.7 389.6 L871.7 389.4 L872.7 388.9 L873.7 389.3 L874.7 388.9 L875.7 388.9 L876.7 388.3 L877.7 388.0 L878.7 388.1 L879.7 387.7 L880.7 387.8 L881.7 388.3 L882.7 387.5 L883.7 387.2 L884.7 387.1 L885.7 387.2 L886.7 387.8 L887.7 387.4 L888.7 387.4 L889.7 387.2 L890.7 388.1 L891.7 387.6 L892.7 387.4 L893.7 387.3 L894.7 387.3 L895.7 387.5 L896.7 388.0 L897.7 387.6 L898.7 387.5 L899.7 388.1 L900.7 387.9 L901.7 388.8 L902.7 388.0 L903.7 388.6 L904.7 389.0 L905.7 388.9 L906.7 389.6 L907.7 389.3 L908.7 389.3 L909.7 389.7 L910.7 389.6 L911.7 390.2 L912.7 390.3 L913.7 391.2 L914.7 391.4 L915.7 391.4 L916.7 391.2 L917.7 391.7 L918.7 391.9 L919.7 392.2 L920.7 392.5 L921.7 393.5 L922.7 393.1 L923.7 393.4 L924.7 394.7 L925.7 394.8 L926.7 395.7 L927.7 395.6 L928.7 396.7 L929.8 397.0 L930.8 397.8 L931.8 398.4 L932.8 398.8 L933.8 399.1 L934.8 399.9 L935.8 401.2 L936.8 402.0 L937.8 402.7 L938.8 402.9 L939.8 404.0 L940.8 404.9 L941.8 405.5 L942.8 406.5 L943.8 407.0 L944.8 408.0 L945.8 408.8 L946.8 409.3 L947.8 410.8 L948.8 411.7 L949.8 411.7 L950.8 413.6 L951.8 414.5 L952.8 415.2 L953.8 415.5 L954.8 417.3 L955.8 417.6 L956.8 419.4 L957.8 420.1 L958.8 420.5 L959.8 421.6 L960.8 423.1 L961.8 424.1 L962.8 425.3 L963.8 426.5 L964.8 426.9 L965.8 427.7 L966.8 429.6 L967.8 429.8 L968.8 431.6 L969.8 431.8 L970.8 433.5 L971.8 434.3 L972.8 435.3 L973.8 435.8 L974.8 436.9 L975.8 437.0 L976.8 438.2 L977.8 438.6 L978.8 439.8 L979.8 440.4 L980.8 440.7 L981.8 441.4 L982.8 441.5 L983.8 442.1 L984.8 443.2 L985.8 443.7 L986.8 444.6 L987.8 444.8 L988.8 444.8 L989.8 445.5 L990.8 446.4 L991.8 446.6 L992.8 446.5 L993.8 447.7 L994.8 448.1 L995.8 447.7 L996.8 448.5 L997.8 448.7 L998.8 449.4 L999.8 449.3 L1000.8 449.5 L1001.8 450.1 L1002.8 450.8 L1003.8 450.2 L1004.8 450.5 L1005.8 451.3 L1006.8 451.8 L1007.8 451.7 L1008.8 451.8 L1009.8 452.5 L1010.8 452.6 L1011.8 452.1 L1012.8 453.1 L1013.8 452.6 L1014.8 452.9 L1015.8 453.6 L1016.8 453.4 L1017.8 453.9 L1018.8 453.4 L1019.8 454.3 L1020.8 453.7 L1021.8 453.7 L1022.8 454.2 L1023.8 454.1 L1024.9 454.3 L1025.9 454.7 L1026.9 454.5 L1027.9 453.8 L1028.9 454.1 L1029.9 454.3 L1030.9 454.3 L1031.9 454.5 L1032.9 454.3 L1033.9 453.9 L1034.9 454.0 L1035.9 454.6 L1036.9 454.1 L1037.9 454.5 L1038.9 454.7 L1039.9 454.2 L1040.9 454.2 L1041.9 454.1 L1042.9 453.7 L1043.9 454.2 L1044.9 453.7 L1045.9 454.0 L1046.9 453.3 L1047.9 453.7 L1048.9 453.5 L1049.9 453.2 L1050.9 452.9 L1051.9 452.5 L1052.9 452.9 L1053.9 452.4 L1054.9 452.5 L1055.9 451.8 L1056.9 451.6 L1057.9 451.5 L1058.9 451.9 L1059.9 451.1 L1060.9 451.6 L1061.9 450.9 L1062.9 450.9 L1063.9 450.4 L1064.9 450.5 L1065.9 449.7 L1066.9 449.8 L1067.9 450.1 L1068.9 449.1 L1069.9 449.3 L1070.9 448.7 L1071.9 448.5 L1072.9 447.9 L1073.9 447.7 L1074.9 448.4 L1075.9 448.0 L1076.9 447.8 L1077.9 447.5 L1078.9 447.4 L1079.9 446.4 L1080.9 446.6 L1081.9 446.3 L1082.9 446.2 L1083.9 446.3 L1084.9 445.9 L1085.9 445.9 L1086.9 444.9 L1087.9 445.2 L1088.9 445.0 L1089.9 444.9 L1090.9 444.6 L1091.9 444.6 L1092.9 443.9 L1093.9 444.3 L1094.9 443.6 L1095.9 443.6 L1096.9 443.7 L1097.9 443.3 L1098.9 442.7 L1099.9 442.5 L1100.9 442.4 L1101.9 442.5 L1102.9 442.6 L1103.9 442.3 L1104.9 441.7 L1105.9 441.5 L1106.9 441.7 L1107.9 440.9 L1108.9 440.9 L1109.9 440.3 L1110.9 440.2 L1111.9 440.4 L1112.9 440.3 L1113.9 440.0 L1114.9 439.5 L1115.9 439.9 L1116.9 439.4 L1117.9 438.7 L1119.0 438.3 L1120.0 439.0 L1121.0 438.8 L1122.0 438.5 L1123.0 437.9 L1124.0 437.4 L1125.0 436.9 L1126.0 436.8 L1127.0 436.6 L1128.0 437.0 L1129.0 436.7 L1130.0 436.4 L1131.0 435.5 L1132.0 435.3 L1133.0 435.1 L1134.0 435.5 L1135.0 434.4 L1136.0 434.8 L1137.0 434.4 L1138.0 434.0 L1139.0 434.2 L1140.0 433.2 L1141.0 433.2 L1142.0 432.6 L1143.0 432.3 L1144.0 432.0 L1145.0 432.0 L1146.0 431.5 L1147.0 431.2 L1148.0 431.9 L1149.0 430.9 L1150.0 431.3 L1151.0 430.9 L1152.0 430.6 L1153.0 430.3 L1154.0 430.4 L1155.0 430.0 L1156.0 429.6 L1157.0 429.2 L1158.0 429.1 L1159.0 428.9 L1160.0 428.5 L1161.0 428.2 L1162.0 427.6 L1163.0 428.0 L1164.0 427.4 L1165.0 426.7 L1166.0 426.6 L1167.0 427.0 L1168.0 426.2 L1169.0 426.1 L1170.0 426.1 L1171.0 426.0 L1172.0 425.2 L1173.0 425.1 L1174.0 424.8 L1175.0 424.2 L1176.0 424.8 L1177.0 423.7 L1178.0 424.4 L1179.0 423.3 L1180.0 423.1 L1181.0 423.5 L1182.0 423.2 L1183.0 422.4 L1184.0 422.5 L1185.0 422.1 L1186.0 422.1 L1187.0 421.3 L1188.0 421.7 L1189.0 421.6 L1190.0 421.0 L1191.0 421.0 L1192.0 420.7 L1193.0 419.9 L1194.0 420.1 L1195.0 419.9 L1196.0 419.3 L1197.0 418.6 L1198.0 418.9 L1199.0 418.9 L1200.0 418.0 L1201.0 418.1 L1202.0 418.1 L1203.0 417.6 L1204.0 416.8 L1205.0 417.1 L1206.0 416.5 L1207.0 416.9 L1208.0 416.5 L1209.0 415.9 L1210.0 416.3 L1211.0 415.8 L1212.0 415.3 L1213.1 415.5 L1214.1 415.4 L1215.1 415.2 L1216.1 414.9 L1217.1 414.5 L1218.1 414.3 L1219.1 414.0 L1220.1 413.7 L1221.1 414.0 L1222.1 413.1 L1223.1 412.6 L1224.1 413.0 L1225.1 412.6 L1226.1 412.5 L1227.1 412.3 L1228.1 411.7 L1229.1 411.5 L1230.1 411.2 L1231.1 411.7 L1232.1 411.7 L1233.1 411.3 L1234.1 410.5 L1235.1 411.2 L1236.1 410.9 L1237.1 410.5 L1238.1 409.9 L1239.1 410.6 L1240.1 410.3 L1241.1 410.2 L1242.1 409.5 L1243.1 410.2 L1244.1 409.4 L1245.1 409.8 L1246.1 409.4 L1247.1 409.6 L1248.1 410.1 L1249.1 409.9 L1250.1 410.0 L1251.1 409.4 L1252.1 409.5 L1253.1 409.7 L1254.1 409.1 L1255.1 409.5 L1256.1 410.0 L1257.1 409.8 L1258.1 409.9 L1259.1 409.3" fill="none" stroke="#e0141c" stroke-width="3.00" stroke-linejoin="round"/>
<path d="M788.6 385.0 L789.6 385.0 L790.6 384.6 L791.6 384.3 L792.6 383.9 L793.6 384.7 L794.6 384.4 L795.6 384.7 L796.6 384.2 L797.6 384.7 L798.6 384.1 L799.6 384.7 L800.6 384.6 L801.6 384.2 L802.6 384.3 L803.6 384.4 L804.6 383.8 L805.6 384.2 L806.6 384.5 L807.6 383.9 L808.6 384.5 L809.6 384.3 L810.6 384.5 L811.6 383.9 L812.6 383.6 L813.6 384.4 L814.6 384.4 L815.6 384.0 L816.6 383.6 L817.6 383.7 L818.6 384.2 L819.6 383.8 L820.6 384.6 L821.6 384.1 L822.6 383.7 L823.6 384.2 L824.6 383.8 L825.6 384.5 L826.6 384.5 L827.6 384.0 L828.6 384.2 L829.6 384.2 L830.6 384.4 L831.6 384.6 L832.6 383.5 L833.6 383.9 L834.6 384.2 L835.6 383.9 L836.7 384.2 L837.7 383.7 L838.7 384.6 L839.7 384.2 L840.7 383.8 L841.7 384.5 L842.7 384.1 L843.7 384.0 L844.7 384.4 L845.7 384.0 L846.7 384.2 L847.7 385.0 L848.7 384.9 L849.7 384.1 L850.7 385.1 L851.7 384.2 L852.7 384.6 L853.7 385.4 L854.7 385.1 L855.7 384.8 L856.7 384.9 L857.7 385.0 L858.7 384.7 L859.7 385.8 L860.7 384.7 L861.7 385.2 L862.7 385.6 L863.7 385.2 L864.7 386.0 L865.7 385.1 L866.7 386.1 L867.7 386.0 L868.7 385.8 L869.7 386.0 L870.7 385.5 L871.7 386.0 L872.7 386.0 L873.7 385.7 L874.7 385.7 L875.7 386.0 L876.7 385.6 L877.7 385.2 L878.7 386.1 L879.7 385.5 L880.7 385.8 L881.7 386.2 L882.7 385.5 L883.7 385.3 L884.7 385.5 L885.7 386.1 L886.7 385.9 L887.7 385.8 L888.7 386.1 L889.7 386.8 L890.7 386.1 L891.7 386.3 L892.7 387.0 L893.7 386.8 L894.7 386.5 L895.7 386.9 L896.7 387.0 L897.7 386.7 L898.7 387.1 L899.7 387.2 L900.7 387.9 L901.7 387.5 L902.7 388.0 L903.7 388.6 L904.7 388.7 L905.7 388.2 L906.7 388.6 L907.7 388.5 L908.7 388.7 L909.7 389.0 L910.7 389.6 L911.7 390.0 L912.7 389.4 L913.7 389.3 L914.7 390.1 L915.7 389.9 L916.7 390.1 L917.7 391.3 L918.7 390.8 L919.7 391.8 L920.7 391.7 L921.7 392.8 L922.7 393.1 L923.7 392.5 L924.7 393.1 L925.7 394.5 L926.7 394.6 L927.7 394.9 L928.7 395.9 L929.8 396.6 L930.8 396.8 L931.8 397.5 L932.8 397.7 L933.8 398.8 L934.8 399.3 L935.8 400.6 L936.8 401.3 L937.8 401.5 L938.8 402.9 L939.8 403.0 L940.8 403.8 L941.8 405.3 L942.8 405.9 L943.8 407.3 L944.8 407.8 L945.8 408.8 L946.8 408.9 L947.8 410.7 L948.8 410.7 L949.8 412.3 L950.8 413.6 L951.8 414.5 L952.8 415.5 L953.8 415.9 L954.8 417.2 L955.8 418.3 L956.8 418.6 L957.8 420.6 L958.8 421.5 L959.8 422.0 L960.8 423.5 L961.8 424.1 L962.8 425.0 L963.8 426.5 L964.8 426.8 L965.8 428.8 L966.8 430.1 L967.8 430.3 L968.8 432.2 L969.8 432.3 L970.8 434.3 L971.8 434.7 L972.8 436.7 L973.8 437.3 L974.8 439.0 L975.8 439.2 L976.8 440.5 L977.8 442.6 L978.8 443.7 L979.8 444.8 L980.8 445.6 L981.8 447.0 L982.8 448.6 L983.8 449.5 L984.8 452.0 L985.8 453.0 L986.8 454.6 L987.8 455.6 L988.8 456.5 L989.8 457.4 L990.8 459.5 L991.8 460.1 L992.8 461.9 L993.8 463.1 L994.8 464.4 L995.8 465.2 L996.8 466.6 L997.8 468.4 L998.8 469.2 L999.8 471.1 L1000.8 472.0 L1001.8 473.4 L1002.8 474.6 L1003.8 476.4 L1004.8 477.3 L1005.8 478.3 L1006.8 479.3 L1007.8 480.7 L1008.8 482.1 L1009.8 482.4 L1010.8 483.0 L1011.8 484.1 L1012.8 484.9 L1013.8 486.3 L1014.8 487.5 L1015.8 488.2 L1016.8 488.8 L1017.8 490.0 L1018.8 491.2 L1019.8 492.3 L1020.8 493.3 L1021.8 495.1 L1022.8 495.7 L1023.8 496.9 L1024.9 498.1 L1025.9 499.1 L1026.9 500.4 L1027.9 501.0 L1028.9 502.5 L1029.9 504.0 L1030.9 504.1 L1031.9 505.8 L1032.9 506.6 L1033.9 507.3 L1034.9 508.4 L1035.9 510.3 L1036.9 510.6 L1037.9 512.4 L1038.9 512.7 L1039.9 514.0 L1040.9 514.6 L1041.9 516.2 L1042.9 517.4 L1043.9 517.7 L1044.9 519.0 L1045.9 520.3 L1046.9 520.5 L1047.9 521.6 L1048.9 522.7 L1049.9 523.8 L1050.9 523.8 L1051.9 525.2 L1052.9 525.4 L1053.9 526.2 L1054.9 528.1 L1055.9 527.7 L1056.9 529.6 L1057.9 530.2 L1058.9 530.9 L1059.9 531.7 L1060.9 532.4 L1061.9 532.8 L1062.9 533.7 L1063.9 534.3 L1064.9 535.9 L1065.9 536.6 L1066.9 537.4 L1067.9 537.6 L1068.9 538.9 L1069.9 539.4 L1070.9 540.9 L1071.9 541.7 L1072.9 542.9 L1073.9 543.5 L1074.9 544.3 L1075.9 545.4 L1076.9 545.5 L1077.9 547.1 L1078.9 547.4 L1079.9 548.8 L1080.9 549.4 L1081.9 551.4 L1082.9 551.2 L1083.9 553.2 L1084.9 554.1 L1085.9 554.3 L1086.9 555.6 L1087.9 555.4 L1088.9 556.2 L1089.9 556.7 L1090.9 557.4 L1091.9 557.9 L1092.9 559.5 L1093.9 559.2 L1094.9 560.3 L1095.9 560.5 L1096.9 560.8 L1097.9 561.7 L1098.9 561.9 L1099.9 563.3 L1100.9 563.0 L1101.9 563.7 L1102.9 564.2 L1103.9 564.7 L1104.9 564.9 L1105.9 565.1 L1106.9 565.3 L1107.9 566.6 L1108.9 566.1 L1109.9 566.8 L1110.9 567.6 L1111.9 567.7 L1112.9 568.6 L1113.9 568.8 L1114.9 568.8 L1115.9 568.7 L1116.9 569.7 L1117.9 569.9 L1119.0 570.8 L1120.0 570.8 L1121.0 571.4 L1122.0 571.9 L1123.0 571.9 L1124.0 572.7 L1125.0 573.2 L1126.0 572.7 L1127.0 574.0 L1128.0 574.3 L1129.0 574.7 L1130.0 574.4 L1131.0 574.7 L1132.0 575.0 L1133.0 575.7 L1134.0 576.6 L1135.0 576.4 L1136.0 576.4 L1137.0 577.2 L1138.0 577.3 L1139.0 578.4 L1140.0 578.9 L1141.0 579.6 L1142.0 579.0 L1143.0 579.7 L1144.0 579.9 L1145.0 581.2 L1146.0 581.6 L1147.0 581.6 L1148.0 582.6 L1149.0 582.5 L1150.0 583.3 L1151.0 583.4 L1152.0 583.7 L1153.0 585.0 L1154.0 585.3 L1155.0 585.5 L1156.0 586.3 L1157.0 586.5 L1158.0 587.2 L1159.0 586.8 L1160.0 587.4 L1161.0 587.9 L1162.0 589.0 L1163.0 589.7 L1164.0 589.6 L1165.0 590.5 L1166.0 590.5 L1167.0 591.8 L1168.0 592.4 L1169.0 592.1 L1170.0 593.7 L1171.0 593.8 L1172.0 593.7 L1173.0 594.4 L1174.0 594.7 L1175.0 595.9 L1176.0 596.6 L1177.0 596.2 L1178.0 596.7 L1179.0 597.6 L1180.0 598.4 L1181.0 598.7 L1182.0 598.8 L1183.0 598.8 L1184.0 599.9 L1185.0 600.1 L1186.0 600.9 L1187.0 601.1 L1188.0 601.7 L1189.0 602.4 L1190.0 602.4 L1191.0 603.1 L1192.0 602.8 L1193.0 602.8 L1194.0 604.3 L1195.0 603.7 L1196.0 605.2 L1197.0 605.0 L1198.0 604.9 L1199.0 605.5 L1200.0 606.4 L1201.0 606.4 L1202.0 607.1 L1203.0 606.9 L1204.0 608.1 L1205.0 608.0 L1206.0 608.9 L1207.0 608.5 L1208.0 609.5 L1209.0 609.7 L1210.0 610.0 L1211.0 609.9 L1212.0 610.9 L1213.1 611.7 L1214.1 611.2 L1215.1 612.0 L1216.1 611.8 L1217.1 613.4 L1218.1 613.7 L1219.1 613.8 L1220.1 613.9 L1221.1 613.8 L1222.1 614.2 L1223.1 615.3 L1224.1 615.7 L1225.1 616.3 L1226.1 616.6 L1227.1 616.4 L1228.1 616.6 L1229.1 617.3 L1230.1 617.4 L1231.1 618.1 L1232.1 618.8 L1233.1 618.7 L1234.1 619.8 L1235.1 619.9 L1236.1 619.5 L1237.1 620.7 L1238.1 621.1 L1239.1 621.5 L1240.1 621.2 L1241.1 622.7 L1242.1 622.7 L1243.1 623.3 L1244.1 623.3 L1245.1 623.7 L1246.1 624.2 L1247.1 625.0 L1248.1 625.7 L1249.1 626.2 L1250.1 626.7 L1251.1 628.1 L1252.1 628.8 L1253.1 629.6 L1254.1 629.5 L1255.1 630.8 L1256.1 631.3 L1257.1 631.2 L1258.1 632.7 L1259.1 632.5" fill="none" stroke="#20c41a" stroke-width="3.00" stroke-linejoin="round"/>
<rect x="791.00" y="18.80" width="186.20" height="155.60" fill="#fff" stroke="#3c3c3c" stroke-width="2.30"/>
<path d="M795.5 164.3 L796.5 164.3 L797.5 164.3 L798.5 164.3 L799.5 164.3 L800.5 164.2 L801.5 164.2 L802.5 164.2 L803.5 164.2 L804.5 164.2 L805.5 164.1 L806.5 164.1 L807.5 164.1 L808.5 164.1 L809.5 164.0 L810.5 164.0 L811.5 164.0 L812.5 163.9 L813.6 163.9 L814.6 163.8 L815.6 163.8 L816.6 163.8 L817.6 163.7 L818.6 163.7 L819.6 163.6 L820.6 163.6 L821.6 163.6 L822.6 163.5 L823.6 163.5 L824.6 163.4 L825.6 163.4 L826.6 163.3 L827.6 163.3 L828.6 163.2 L829.6 163.2 L830.6 163.1 L831.6 163.1 L832.6 163.0 L833.6 163.0 L834.6 162.9 L835.6 162.8 L836.6 162.8 L837.6 162.7 L838.6 162.6 L839.6 162.5 L840.6 162.5 L841.6 162.4 L842.6 162.3 L843.6 162.2 L844.6 162.1 L845.6 162.0 L846.6 161.9 L847.6 161.8 L848.6 161.7 L849.7 161.7 L850.7 161.6 L851.7 161.5 L852.7 161.4 L853.7 161.3 L854.7 161.2 L855.7 161.1 L856.7 161.1 L857.7 161.0 L858.7 160.9 L859.7 160.8 L860.7 160.7 L861.7 160.6 L862.7 160.5 L863.7 160.4 L864.7 160.3 L865.7 160.2 L866.7 160.1 L867.7 160.1 L868.7 160.0 L869.7 159.9 L870.7 159.8 L871.7 159.8 L872.7 159.7 L873.7 159.6 L874.7 159.6 L875.7 159.6 L876.7 159.5 L877.7 159.5 L878.7 159.5 L879.7 159.5 L880.7 159.5 L881.7 159.5 L882.7 159.5 L883.7 159.5 L884.8 159.4 L885.8 159.4 L886.8 159.4 L887.8 159.4 L888.8 159.4 L889.8 159.4 L890.8 159.4 L891.8 159.4 L892.8 159.4 L893.8 159.4 L894.8 159.4 L895.8 159.4 L896.8 159.4 L897.8 159.4 L898.8 159.4 L899.8 159.4 L900.8 159.4 L901.8 159.4 L902.8 159.3 L903.8 159.3 L904.8 159.3 L905.8 159.3 L906.8 159.3 L907.8 159.3 L908.8 159.3 L909.8 159.3 L910.8 159.3 L911.8 159.3 L912.8 159.3 L913.8 159.3 L914.8 159.3 L915.8 159.3 L916.8 159.3 L917.8 159.3 L918.8 159.3 L919.8 159.3 L920.9 159.3 L921.9 159.3 L922.9 159.3 L923.9 159.3 L924.9 159.3 L925.9 159.3 L926.9 159.3 L927.9 159.3 L928.9 159.3 L929.9 159.3 L930.9 159.3 L931.9 159.3 L932.9 159.3 L933.9 159.3 L934.9 159.3 L935.9 159.3 L936.9 159.3 L937.9 159.3 L938.9 159.3 L939.9 159.2 L940.9 159.2 L941.9 159.2 L942.9 159.2 L943.9 159.2 L944.9 159.2 L945.9 159.2 L946.9 159.2 L947.9 159.2 L948.9 159.2 L949.9 159.2 L950.9 159.2 L951.9 159.2 L952.9 159.2 L953.9 159.2 L954.9 159.2 L955.9 159.2 L957.0 159.2 L958.0 159.2 L959.0 159.2 L960.0 159.2 L961.0 159.2 L962.0 159.2 L963.0 159.2 L964.0 159.2 L965.0 159.2 L966.0 159.2 L967.0 159.2 L968.0 159.2 L969.0 159.2 L970.0 159.2 L971.0 159.2 L972.0 159.2 L973.0 159.2 L974.0 159.2" fill="none" stroke="#1010d8" stroke-width="3.40" stroke-linejoin="round"/>
<path d="M795.5 164.3 L796.5 164.3 L797.5 164.3 L798.5 164.3 L799.5 164.3 L800.5 164.3 L801.5 164.3 L802.5 164.3 L803.5 164.3 L804.5 164.2 L805.5 164.2 L806.5 164.2 L807.5 164.2 L808.5 164.2 L809.5 164.2 L810.5 164.2 L811.5 164.1 L812.5 164.1 L813.6 164.1 L814.6 164.1 L815.6 164.1 L816.6 164.0 L817.6 164.0 L818.6 164.0 L819.6 163.9 L820.6 163.9 L821.6 163.9 L822.6 163.9 L823.6 163.8 L824.6 163.8 L825.6 163.8 L826.6 163.7 L827.6 163.7 L828.6 163.6 L829.6 163.6 L830.6 163.6 L831.6 163.5 L832.6 163.4 L833.6 163.3 L834.6 163.2 L835.6 163.1 L836.6 163.0 L837.6 162.9 L838.6 162.7 L839.6 162.6 L840.6 162.5 L841.6 162.3 L842.6 162.2 L843.6 162.0 L844.6 161.8 L845.6 161.7 L846.6 161.5 L847.6 161.3 L848.6 161.1 L849.7 160.9 L850.7 160.7 L851.7 160.5 L852.7 160.3 L853.7 160.1 L854.7 159.8 L855.7 159.6 L856.7 159.4 L857.7 159.2 L858.7 159.0 L859.7 158.9 L860.7 158.7 L861.7 158.5 L862.7 158.4 L863.7 158.2 L864.7 158.1 L865.7 158.0 L866.7 157.8 L867.7 157.7 L868.7 157.5 L869.7 157.4 L870.7 157.3 L871.7 157.2 L872.7 157.1 L873.7 157.0 L874.7 156.9 L875.7 156.8 L876.7 156.7 L877.7 156.6 L878.7 156.6 L879.7 156.5 L880.7 156.4 L881.7 156.4 L882.7 156.3 L883.7 156.3 L884.8 156.2 L885.8 156.2 L886.8 156.1 L887.8 156.1 L888.8 156.1 L889.8 156.0 L890.8 156.0 L891.8 155.9 L892.8 155.9 L893.8 155.9 L894.8 155.8 L895.8 155.8 L896.8 155.8 L897.8 155.7 L898.8 155.7 L899.8 155.7 L900.8 155.6 L901.8 155.6 L902.8 155.6 L903.8 155.6 L904.8 155.6 L905.8 155.5 L906.8 155.5 L907.8 155.5 L908.8 155.5 L909.8 155.5 L910.8 155.5 L911.8 155.4 L912.8 155.4 L913.8 155.4 L914.8 155.4 L915.8 155.4 L916.8 155.4 L917.8 155.4 L918.8 155.4 L919.8 155.3 L920.9 155.3 L921.9 155.3 L922.9 155.3 L923.9 155.3 L924.9 155.3 L925.9 155.3 L926.9 155.3 L927.9 155.3 L928.9 155.2 L929.9 155.2 L930.9 155.2 L931.9 155.2 L932.9 155.2 L933.9 155.2 L934.9 155.2 L935.9 155.2 L936.9 155.2 L937.9 155.2 L938.9 155.2 L939.9 155.1 L940.9 155.1 L941.9 155.1 L942.9 155.1 L943.9 155.1 L944.9 155.1 L945.9 155.1 L946.9 155.1 L947.9 155.1 L948.9 155.1 L949.9 155.1 L950.9 155.1 L951.9 155.1 L952.9 155.1 L953.9 155.1 L954.9 155.0 L955.9 155.0 L957.0 155.0 L958.0 155.0 L959.0 155.0 L960.0 155.0 L961.0 155.0 L962.0 155.0 L963.0 155.0 L964.0 155.0 L965.0 155.0 L966.0 155.0 L967.0 155.0 L968.0 155.0 L969.0 155.0 L970.0 155.0 L971.0 155.0 L972.0 155.0 L973.0 155.0 L974.0 155.0" fill="none" stroke="#e0141c" stroke-width="3.40" stroke-linejoin="round"/>
<path d="M795.5 164.3 L796.5 164.3 L797.5 164.3 L798.5 164.2 L799.5 164.2 L800.5 164.2 L801.5 164.2 L802.5 164.2 L803.5 164.2 L804.5 164.1 L805.5 164.1 L806.5 164.1 L807.5 164.1 L808.5 164.1 L809.5 164.0 L810.5 164.0 L811.5 164.0 L812.5 164.0 L813.6 164.0 L814.6 164.0 L815.6 163.9 L816.6 163.9 L817.6 163.9 L818.6 163.9 L819.6 163.9 L820.6 163.9 L821.6 163.8 L822.6 163.8 L823.6 163.8 L824.6 163.8 L825.6 163.8 L826.6 163.8 L827.6 163.7 L828.6 163.7 L829.6 163.7 L830.6 163.7 L831.6 163.7 L832.6 163.7 L833.6 163.6 L834.6 163.6 L835.6 163.6 L836.6 163.6 L837.6 163.6 L838.6 163.6 L839.6 163.5 L840.6 163.5 L841.6 163.5 L842.6 163.5 L843.6 163.5 L844.6 163.5 L845.6 163.4 L846.6 163.4 L847.6 163.4 L848.6 163.4 L849.7 163.4 L850.7 163.4 L851.7 163.4 L852.7 163.3 L853.7 163.3 L854.7 163.3 L855.7 163.3 L856.7 163.3 L857.7 163.3 L858.7 163.3 L859.7 163.2 L860.7 163.2 L861.7 163.2 L862.7 163.2 L863.7 163.2 L864.7 163.2 L865.7 163.2 L866.7 163.2 L867.7 163.1 L868.7 163.1 L869.7 163.1 L870.7 163.1 L871.7 163.1 L872.7 163.1 L873.7 163.1 L874.7 163.1 L875.7 163.0 L876.7 163.0 L877.7 163.0 L878.7 163.0 L879.7 163.0 L880.7 163.0 L881.7 163.0 L882.7 163.0 L883.7 162.9 L884.8 162.9 L885.8 162.9 L886.8 162.9 L887.8 162.9 L888.8 162.9 L889.8 162.9 L890.8 162.9 L891.8 162.9 L892.8 162.9 L893.8 162.8 L894.8 162.8 L895.8 162.8 L896.8 162.8 L897.8 162.8 L898.8 162.8 L899.8 162.8 L900.8 162.8 L901.8 162.8 L902.8 162.7 L903.8 162.7 L904.8 162.7 L905.8 162.7 L906.8 162.7 L907.8 162.7 L908.8 162.7 L909.8 162.7 L910.8 162.7 L911.8 162.6 L912.8 162.6 L913.8 162.6 L914.8 162.6 L915.8 162.6 L916.8 162.6 L917.8 162.6 L918.8 162.6 L919.8 162.5 L920.9 162.5 L921.9 162.5 L922.9 162.5 L923.9 162.5 L924.9 162.5 L925.9 162.5 L926.9 162.4 L927.9 162.4 L928.9 162.4 L929.9 162.4 L930.9 162.4 L931.9 162.4 L932.9 162.4 L933.9 162.3 L934.9 162.3 L935.9 162.3 L936.9 162.3 L937.9 162.3 L938.9 162.3 L939.9 162.3 L940.9 162.2 L941.9 162.2 L942.9 162.2 L943.9 162.2 L944.9 162.2 L945.9 162.2 L946.9 162.2 L947.9 162.1 L948.9 162.1 L949.9 162.1 L950.9 162.1 L951.9 162.1 L952.9 162.1 L953.9 162.0 L954.9 162.0 L955.9 162.0 L957.0 162.0 L958.0 162.0 L959.0 162.0 L960.0 161.9 L961.0 161.9 L962.0 161.9 L963.0 161.9 L964.0 161.9 L965.0 161.9 L966.0 161.8 L967.0 161.8 L968.0 161.8 L969.0 161.8 L970.0 161.8 L971.0 161.8 L972.0 161.7 L973.0 161.7 L974.0 161.7" fill="none" stroke="#20c41a" stroke-width="3.40" stroke-linejoin="round"/>
<path d="M841.8 160.8 L842.3 160.5 L842.8 160.2 L843.3 159.8 L843.8 159.5 L844.3 159.2 L844.8 158.8 L845.3 158.5 L845.8 158.1 L846.3 157.7 L846.8 157.3 L847.3 156.9 L847.8 156.5 L848.3 156.0 L848.8 155.5 L849.3 155.0 L849.8 154.5" fill="none" stroke="#2e2e2e" stroke-width="3.60"/>
<path d="M858.8 142.4 L859.3 141.7 L859.8 140.9 L860.3 140.1 L860.8 139.4 L861.3 138.6 L861.8 137.8 L862.3 137.0 L862.8 136.2 L863.3 135.3 L863.8 134.5" fill="none" stroke="#2e2e2e" stroke-width="3.60"/>
<path d="M872.3 118.1 L872.8 117.1 L873.3 116.1 L873.8 115.1 L874.3 114.1 L874.8 113.0 L875.3 112.0 L875.8 111.0 L876.3 109.9 L876.8 108.9" fill="none" stroke="#2e2e2e" stroke-width="3.60"/>
<path d="M883.0 95.5 L883.5 94.4 L884.0 93.3 L884.5 92.2 L885.0 91.1 L885.5 90.0 L886.0 88.9 L886.5 87.7 L887.0 86.6" fill="none" stroke="#2e2e2e" stroke-width="3.60"/>
<path d="M893.3 72.7 L893.8 71.8 L894.3 70.8 L894.8 69.9 L895.3 69.0 L895.8 68.2 L896.3 67.4 L896.8 66.5 L897.3 65.8 L897.8 65.0 L898.3 64.2" fill="none" stroke="#2e2e2e" stroke-width="3.60"/>
<path d="M907.3 52.4 L907.8 51.8 L908.3 51.3 L908.8 50.9 L909.3 50.4 L909.8 50.0 L910.3 49.5 L910.8 49.1 L911.3 48.7 L911.8 48.3 L912.3 47.9 L912.8 47.6 L913.3 47.2 L913.8 46.9 L914.3 46.5 L914.8 46.2" fill="none" stroke="#2e2e2e" stroke-width="3.60"/>
<path d="M927.3 39.3 L927.8 39.1 L928.3 38.9 L928.8 38.8 L929.3 38.6 L929.8 38.4 L930.3 38.3 L930.8 38.1 L931.3 38.0 L931.8 37.8 L932.3 37.7 L932.8 37.5 L933.3 37.4 L933.8 37.3 L934.3 37.2 L934.8 37.1 L935.3 36.9 L935.8 36.8 L936.3 36.7 L936.8 36.6" fill="none" stroke="#2e2e2e" stroke-width="3.60"/>
<path d="M947.0 34.9 L947.5 34.9 L948.0 34.8 L948.5 34.7 L949.0 34.6 L949.5 34.5 L950.0 34.4 L950.5 34.4 L951.0 34.3 L951.5 34.2 L952.0 34.1 L952.5 34.0 L953.0 33.9 L953.5 33.8 L954.0 33.7 L954.5 33.6 L955.0 33.5 L955.5 33.4 L956.0 33.3 L956.5 33.2 L957.0 33.1" fill="none" stroke="#2e2e2e" stroke-width="3.60"/>
<path d="M966.3 31.3 L966.8 31.2 L967.3 31.1 L967.8 31.0 L968.3 30.9 L968.8 30.8 L969.3 30.7 L969.8 30.6 L970.3 30.5 L970.8 30.5 L971.3 30.4" fill="none" stroke="#2e2e2e" stroke-width="3.60"/>
<rect x="792.60" y="552.80" width="184.70" height="153.50" fill="#fff" stroke="#3c3c3c" stroke-width="2.30"/>
<path d="M796.0 564.0 L796.5 564.0 L797.0 563.9 L797.5 563.9 L798.0 563.9 L798.5 563.9 L799.0 563.9 L799.5 563.8 L800.0 563.8 L800.5 563.8 L801.0 563.8 L801.5 563.7 L802.0 563.7 L802.5 563.7 L803.0 563.7 L803.5 563.7 L804.0 563.6 L804.5 563.6 L805.0 563.6" fill="none" stroke="#2e2e2e" stroke-width="3.20"/>
<line x1="863.71" y1="567.81" x2="871.49" y2="575.59" stroke="#2e2e2e" stroke-width="3.60"/>
<line x1="883.30" y1="587.03" x2="890.70" y2="595.17" stroke="#2e2e2e" stroke-width="3.60"/>
<line x1="901.16" y1="608.11" x2="908.04" y2="616.69" stroke="#2e2e2e" stroke-width="3.60"/>
<line x1="916.93" y1="628.53" x2="923.87" y2="637.07" stroke="#2e2e2e" stroke-width="3.60"/>
<line x1="933.43" y1="648.02" x2="940.57" y2="656.38" stroke="#2e2e2e" stroke-width="3.60"/>
<line x1="949.36" y1="666.41" x2="956.24" y2="674.99" stroke="#2e2e2e" stroke-width="3.60"/>
<line x1="963.41" y1="684.89" x2="969.99" y2="693.71" stroke="#2e2e2e" stroke-width="3.60"/>
<path d="M796.2 561.6 L797.2 561.6 L798.2 561.6 L799.2 561.6 L800.2 561.6 L801.2 561.6 L802.2 561.6 L803.2 561.6 L804.2 561.6 L805.2 561.6 L806.2 561.6 L807.2 561.6 L808.3 561.6 L809.3 561.6 L810.3 561.6 L811.3 561.6 L812.3 561.6 L813.3 561.6 L814.3 561.6 L815.3 561.6 L816.3 561.6 L817.3 561.6 L818.3 561.6 L819.3 561.6 L820.3 561.6 L821.3 561.6 L822.3 561.6 L823.3 561.6 L824.3 561.6 L825.3 561.6 L826.3 561.6 L827.3 561.6 L828.3 561.6 L829.3 561.6 L830.4 561.6 L831.4 561.6 L832.4 561.6 L833.4 561.6 L834.4 561.6 L835.4 561.6 L836.4 561.6 L837.4 561.6 L838.4 561.6 L839.4 561.6 L840.4 561.6 L841.4 561.6 L842.4 561.6 L843.4 561.6 L844.4 561.6 L845.4 561.6 L846.4 561.6 L847.4 561.6 L848.4 561.6 L849.4 561.6 L850.4 561.6 L851.4 561.6 L852.5 561.6 L853.5 561.6 L854.5 561.6 L855.5 561.6 L856.5 561.6 L857.5 561.6 L858.5 561.6 L859.5 561.6 L860.5 561.6 L861.5 561.6 L862.5 561.6 L863.5 561.6 L864.5 561.6 L865.5 561.6 L866.5 561.6 L867.5 561.6 L868.5 561.6 L869.5 561.6 L870.5 561.6 L871.5 561.6 L872.5 561.6 L873.5 561.6 L874.6 561.6 L875.6 561.6 L876.6 561.6 L877.6 561.6 L878.6 561.6 L879.6 561.6 L880.6 561.6 L881.6 561.6 L882.6 561.6 L883.6 561.6 L884.6 561.6 L885.6 561.6 L886.6 561.6 L887.6 561.6 L888.6 561.6 L889.6 561.6 L890.6 561.6 L891.6 561.6 L892.6 561.6 L893.6 561.6 L894.6 561.6 L895.6 561.6 L896.7 561.6 L897.7 561.6 L898.7 561.6 L899.7 561.6 L900.7 561.6 L901.7 561.6 L902.7 561.6 L903.7 561.6 L904.7 561.6 L905.7 561.6 L906.7 561.6 L907.7 561.6 L908.7 561.6 L909.7 561.6 L910.7 561.6 L911.7 561.6 L912.7 561.6 L913.7 561.6 L914.7 561.6 L915.7 561.6 L916.7 561.6 L917.7 561.6 L918.8 561.6 L919.8 561.6 L920.8 561.6 L921.8 561.6 L922.8 561.6 L923.8 561.6 L924.8 561.6 L925.8 561.6 L926.8 561.6 L927.8 561.6 L928.8 561.6 L929.8 561.6 L930.8 561.6 L931.8 561.6 L932.8 561.6 L933.8 561.6 L934.8 561.6 L935.8 561.6 L936.8 561.6 L937.8 561.6 L938.8 561.6 L939.8 561.6 L940.9 561.6 L941.9 561.6 L942.9 561.6 L943.9 561.6 L944.9 561.6 L945.9 561.6 L946.9 561.6 L947.9 561.6 L948.9 561.6 L949.9 561.6 L950.9 561.6 L951.9 561.6 L952.9 561.6 L953.9 561.6 L954.9 561.6 L955.9 561.6 L956.9 561.6 L957.9 561.6 L958.9 561.6 L959.9 561.6 L960.9 561.6 L961.9 561.6 L963.0 561.6 L964.0 561.6 L965.0 561.6 L966.0 561.6 L967.0 561.6 L968.0 561.6 L969.0 561.6 L970.0 561.6 L971.0 561.6 L972.0 561.6 L973.0 561.6 L974.0 561.6" fill="none" stroke="#20c41a" stroke-width="3.40" stroke-linejoin="round"/>
<text x="0.20" y="27.90" font-family="Liberation Sans, sans-serif" font-size="34.50" font-weight="bold" text-anchor="start" fill="#000">(a)</text>
<text x="638.20" y="27.90" font-family="Liberation Sans, sans-serif" font-size="34.50" font-weight="bold" text-anchor="start" fill="#000">(b)</text>
<text transform="translate(37.70 187.40) rotate(-90)" font-family="Liberation Sans, sans-serif" font-size="27.50" font-weight="bold" text-anchor="middle" fill="#000" stroke="#000" stroke-width="0.35">i<tspan font-size="20" dy="10.7">tip</tspan><tspan dy="-10.7"> / nA</tspan></text>
<text transform="translate(29.30 538.80) rotate(-90)" font-family="Liberation Sans, sans-serif" font-size="30.50" font-weight="bold" text-anchor="middle" fill="#000" stroke="#000" stroke-width="0.35">i<tspan font-size="22" dy="11.5">sub</tspan><tspan dy="-11.5"> / nA</tspan></text>
<text transform="translate(691.00 185.20) rotate(-90)" font-family="Liberation Sans, sans-serif" font-size="30.50" font-weight="bold" text-anchor="middle" fill="#000" stroke="#000" stroke-width="0.35">J<tspan font-size="21.7" dy="11.5">tip,RSA</tspan><tspan dy="-11.5"> / pA </tspan><tspan dx="3">µm</tspan><tspan font-size="19" dy="-18.5">-2</tspan></text>
<text transform="translate(701.00 539.20) rotate(-90)" font-family="Liberation Sans, sans-serif" font-size="30.50" font-weight="bold" text-anchor="middle" fill="#000" stroke="#000" stroke-width="0.35">J<tspan font-size="21.8" dy="11.5">sub,RSA</tspan><tspan dy="-11.5"> / fA </tspan><tspan dx="3">µm</tspan><tspan font-size="19" dy="-18.5">-2</tspan></text>
<text x="363.50" y="792.4" font-family="Liberation Sans, sans-serif" font-size="31" font-weight="bold" text-anchor="middle" fill="#000" stroke="#000" stroke-width="0.35">E<tspan font-size="21.5" dy="10.2">tip</tspan><tspan dy="-10.2"> / V vs. Hg/Hg</tspan><tspan font-size="21.5" dy="10.2">2</tspan><tspan dy="-10.2">SO</tspan><tspan font-size="21.5" dy="10.2">4</tspan></text>
<text x="1024.00" y="792.4" font-family="Liberation Sans, sans-serif" font-size="31" font-weight="bold" text-anchor="middle" fill="#000" stroke="#000" stroke-width="0.35">E<tspan font-size="21.5" dy="10.2">tip</tspan><tspan dy="-10.2"> / V vs. Hg/Hg</tspan><tspan font-size="21.5" dy="10.2">2</tspan><tspan dy="-10.2">SO</tspan><tspan font-size="21.5" dy="10.2">4</tspan></text>
<line x1="178.80" y1="585.50" x2="189.60" y2="585.50" stroke="#2e2e2e" stroke-width="3.20"/>
<line x1="203.00" y1="585.50" x2="213.80" y2="585.50" stroke="#2e2e2e" stroke-width="3.20"/>
<text x="233.30" y="592.70" font-family="Liberation Sans, sans-serif" font-size="22.80" font-weight="normal" text-anchor="start" fill="#2e2e2e" stroke="#2e2e2e" stroke-width="0.45">Pt disk</text>
<line x1="178.80" y1="613.80" x2="224.80" y2="613.80" stroke="#20c41a" stroke-width="3.20"/>
<text x="233.30" y="621.00" font-family="Liberation Sans, sans-serif" font-size="22.8" fill="#2e2e2e" stroke="#2e2e2e" stroke-width="0.45">npPt-<tspan font-family="Liberation Serif, serif" font-size="23.2">I</tspan></text>
<line x1="178.80" y1="642.10" x2="224.80" y2="642.10" stroke="#1010d8" stroke-width="3.20"/>
<text x="233.30" y="649.30" font-family="Liberation Sans, sans-serif" font-size="22.8" fill="#2e2e2e" stroke="#2e2e2e" stroke-width="0.45">npPt-<tspan font-family="Liberation Serif, serif" font-size="23.2">II</tspan></text>
<line x1="178.80" y1="670.40" x2="224.80" y2="670.40" stroke="#e0141c" stroke-width="3.20"/>
<text x="233.30" y="677.60" font-family="Liberation Sans, sans-serif" font-size="22.8" fill="#2e2e2e" stroke="#2e2e2e" stroke-width="0.45">npPt-<tspan font-family="Liberation Serif, serif" font-size="23.2">III</tspan></text>
<line x1="1004.40" y1="602.60" x2="1015.20" y2="602.60" stroke="#2e2e2e" stroke-width="3.20"/>
<line x1="1028.60" y1="602.60" x2="1039.40" y2="602.60" stroke="#2e2e2e" stroke-width="3.20"/>
<text x="1059.30" y="609.80" font-family="Liberation Sans, sans-serif" font-size="22.80" font-weight="normal" text-anchor="start" fill="#2e2e2e" stroke="#2e2e2e" stroke-width="0.45">Pt disk</text>
<line x1="1004.40" y1="630.90" x2="1050.40" y2="630.90" stroke="#20c41a" stroke-width="3.20"/>
<text x="1059.30" y="638.10" font-family="Liberation Sans, sans-serif" font-size="22.8" fill="#2e2e2e" stroke="#2e2e2e" stroke-width="0.45">npPt-<tspan font-family="Liberation Serif, serif" font-size="23.2">I</tspan></text>
<line x1="1004.40" y1="659.20" x2="1050.40" y2="659.20" stroke="#1010d8" stroke-width="3.20"/>
<text x="1059.30" y="666.40" font-family="Liberation Sans, sans-serif" font-size="22.8" fill="#2e2e2e" stroke="#2e2e2e" stroke-width="0.45">npPt-<tspan font-family="Liberation Serif, serif" font-size="23.2">II</tspan></text>
<line x1="1004.40" y1="687.50" x2="1050.40" y2="687.50" stroke="#e0141c" stroke-width="3.20"/>
<text x="1059.30" y="694.70" font-family="Liberation Sans, sans-serif" font-size="22.8" fill="#2e2e2e" stroke="#2e2e2e" stroke-width="0.45">npPt-<tspan font-family="Liberation Serif, serif" font-size="23.2">III</tspan></text>
<line x1="801.20" y1="44.60" x2="801.20" y2="78.60" stroke="#333" stroke-width="2.40"/>
<path d="M801.20 36.60 L805.40 50.10 L801.20 48.08 L797.00 50.10 Z" fill="#111"/>
<path d="M801.20 86.60 L797.00 73.10 L801.20 75.12 L805.40 73.10 Z" fill="#111"/>
<text x="805.0" y="68.4" font-family="Liberation Sans, sans-serif" font-size="17.5" fill="#2e2e2e" stroke="#2e2e2e" stroke-width="0.15">1.0 pA µm<tspan font-size="12.5" dy="-9.5">-2</tspan></text>
<line x1="925.60" y1="138.40" x2="958.90" y2="138.40" stroke="#333" stroke-width="2.40"/>
<path d="M917.60 138.40 L931.10 134.20 L929.08 138.40 L931.10 142.60 Z" fill="#111"/>
<path d="M966.90 138.40 L953.40 142.60 L955.42 138.40 L953.40 134.20 Z" fill="#111"/>
<text x="923.00" y="128.50" font-family="Liberation Sans, sans-serif" font-size="17.80" font-weight="normal" text-anchor="start" fill="#2e2e2e" stroke="#2e2e2e" stroke-width="0.15">0.2 V</text>
<line x1="801.00" y1="612.60" x2="801.00" y2="643.10" stroke="#333" stroke-width="2.40"/>
<path d="M801.00 604.60 L805.20 618.10 L801.00 616.08 L796.80 618.10 Z" fill="#111"/>
<path d="M801.00 651.10 L796.80 637.60 L801.00 639.62 L805.20 637.60 Z" fill="#111"/>
<text x="805.0" y="633.9" font-family="Liberation Sans, sans-serif" font-size="17.5" fill="#2e2e2e" stroke="#2e2e2e" stroke-width="0.15">0.2 pA µm<tspan font-size="12.5" dy="-9.5">-2</tspan></text>
<line x1="897.70" y1="693.10" x2="931.90" y2="693.10" stroke="#333" stroke-width="2.40"/>
<path d="M889.70 693.10 L903.20 688.90 L901.18 693.10 L903.20 697.30 Z" fill="#111"/>
<path d="M939.90 693.10 L926.40 697.30 L928.42 693.10 L926.40 688.90 Z" fill="#111"/>
<text x="894.00" y="680.90" font-family="Liberation Sans, sans-serif" font-size="17.80" font-weight="normal" text-anchor="start" fill="#2e2e2e" stroke="#2e2e2e" stroke-width="0.15">0.2 V</text>
</g>
</svg></body></html>
